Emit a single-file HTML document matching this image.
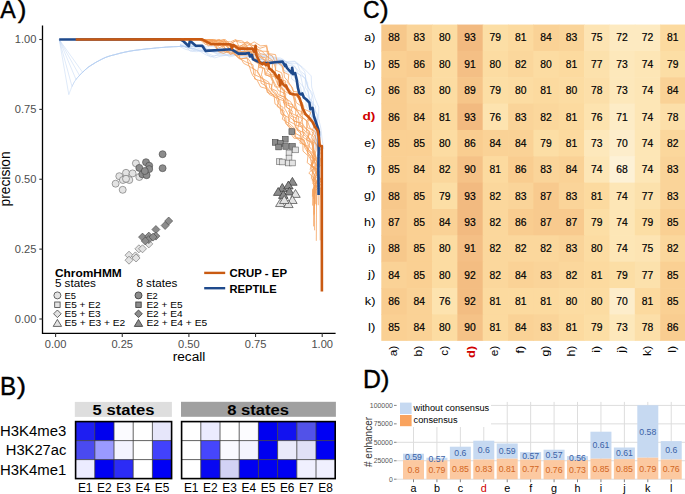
<!DOCTYPE html>
<html><head><meta charset="utf-8"><style>
html,body{margin:0;padding:0;background:#fff;}
svg{display:block;font-family:"Liberation Sans",sans-serif;}
</style></head><body>
<svg width="685" height="494" viewBox="0 0 685 494">
<rect width="685" height="494" fill="#fff"/>
<text transform="translate(0.34,18.40) scale(0.2325,0.2458)" font-size="100" fill="#000" stroke="#000" stroke-width="1.67">A</text>
<text transform="translate(17.71,17.98) scale(0.2590,0.2370)" font-size="100" fill="#000" stroke="#000" stroke-width="1.61">)</text>
<g stroke="#000" stroke-width="1.3" fill="none">
<line x1="42.5" y1="25.4" x2="42.5" y2="333.8"/>
<line x1="41.95" y1="333.3" x2="335.6" y2="333.3"/>
</g>
<g stroke="#333" stroke-width="1.1">
<line x1="39.3" y1="319.00" x2="42.5" y2="319.00"/>
<line x1="55.60" y1="333.3" x2="55.60" y2="336.9"/>
<line x1="39.3" y1="249.12" x2="42.5" y2="249.12"/>
<line x1="122.25" y1="333.3" x2="122.25" y2="336.9"/>
<line x1="39.3" y1="179.25" x2="42.5" y2="179.25"/>
<line x1="188.90" y1="333.3" x2="188.90" y2="336.9"/>
<line x1="39.3" y1="109.38" x2="42.5" y2="109.38"/>
<line x1="255.55" y1="333.3" x2="255.55" y2="336.9"/>
<line x1="39.3" y1="39.50" x2="42.5" y2="39.50"/>
<line x1="322.20" y1="333.3" x2="322.20" y2="336.9"/>
</g>
<text x="36.4" y="322.90" font-size="10.2" fill="#4d4d4d" text-anchor="end" textLength="21.6" lengthAdjust="spacingAndGlyphs">0.00</text>
<text x="55.60" y="347.7" font-size="10.2" fill="#4d4d4d" text-anchor="middle" textLength="21.6" lengthAdjust="spacingAndGlyphs">0.00</text>
<text x="36.4" y="253.03" font-size="10.2" fill="#4d4d4d" text-anchor="end" textLength="21.6" lengthAdjust="spacingAndGlyphs">0.25</text>
<text x="122.25" y="347.7" font-size="10.2" fill="#4d4d4d" text-anchor="middle" textLength="21.6" lengthAdjust="spacingAndGlyphs">0.25</text>
<text x="36.4" y="183.15" font-size="10.2" fill="#4d4d4d" text-anchor="end" textLength="21.6" lengthAdjust="spacingAndGlyphs">0.50</text>
<text x="188.90" y="347.7" font-size="10.2" fill="#4d4d4d" text-anchor="middle" textLength="21.6" lengthAdjust="spacingAndGlyphs">0.50</text>
<text x="36.4" y="113.28" font-size="10.2" fill="#4d4d4d" text-anchor="end" textLength="21.6" lengthAdjust="spacingAndGlyphs">0.75</text>
<text x="255.55" y="347.7" font-size="10.2" fill="#4d4d4d" text-anchor="middle" textLength="21.6" lengthAdjust="spacingAndGlyphs">0.75</text>
<text x="36.4" y="43.40" font-size="10.2" fill="#4d4d4d" text-anchor="end" textLength="21.6" lengthAdjust="spacingAndGlyphs">1.00</text>
<text x="322.20" y="347.7" font-size="10.2" fill="#4d4d4d" text-anchor="middle" textLength="21.6" lengthAdjust="spacingAndGlyphs">1.00</text>
<text x="189.00" y="361.30" font-size="13.7" fill="#000" text-anchor="middle">recall</text>
<text transform="translate(10,178.9) rotate(-90)" font-size="13.8" text-anchor="middle">precision</text>
<polyline points="59.2,39.5 68.8,94.6 69.6,92.5 70.1,91.0 70.8,89.4 71.4,87.9 72.0,86.5 72.6,85.3 73.2,84.1 73.8,82.9 74.4,81.8 75.2,80.7 76.0,79.5 76.9,78.3 78.0,77.1 79.1,75.9 80.2,74.6 81.4,73.5 82.6,72.3 83.7,71.2 84.8,70.2 85.9,69.2 87.1,68.2 88.4,67.1 90.0,66.0 91.9,64.8 94.0,63.5 96.3,62.1 98.7,60.8 101.0,59.6 103.2,58.5 105.2,57.6 107.1,56.9 108.9,56.3 110.8,55.7 112.8,55.2 115.0,54.6 117.4,54.0 119.8,53.3 122.4,52.7 125.1,52.1 127.9,51.5 130.8,51.0 133.8,50.5 136.9,50.1 140.1,49.7 143.4,49.3 146.7,48.9 150.0,48.6 153.3,48.3 156.6,47.9 159.9,47.6 163.3,47.4 166.7,47.1 170.0,46.9 173.4,46.7 176.9,46.6 180.3,46.4 183.7,46.3 187.0,46.3 190.0,46.2 193.0,46.2 195.9,46.2 198.8,46.2 201.3,46.2 203.4,46.3 205.0,46.3" fill="none" stroke="#b4cdf0" stroke-width="0.5" stroke-opacity="0.85" stroke-linejoin="round"/>
<polyline points="59.2,39.5 72.0,86.5 72.6,85.3 73.2,84.1 73.8,82.9 74.4,81.8 75.2,80.7 76.0,79.5 76.9,78.3 78.0,77.1 79.1,75.9 80.2,74.6 81.4,73.5 82.6,72.3 83.7,71.2 84.8,70.2 85.9,69.2 87.1,68.2 88.4,67.1 90.0,66.0 91.9,64.8 94.0,63.5 96.3,62.1 98.7,60.8 101.0,59.6 103.2,58.5 105.2,57.6 107.1,56.9 108.9,56.3 110.8,55.7 112.8,55.2 115.0,54.6 117.4,54.0 119.8,53.3 122.4,52.7 125.1,52.1 127.9,51.5 130.8,51.0 133.8,50.5 136.9,50.1 140.1,49.7 143.4,49.3 146.7,48.9 150.0,48.6 153.3,48.3 156.6,47.9 159.9,47.6 163.3,47.4 166.7,47.1 170.0,46.9 173.4,46.7 176.9,46.6 180.3,46.4 183.7,46.3 187.0,46.3 190.0,46.2 193.0,46.2 195.9,46.2 198.8,46.2 201.3,46.2 203.4,46.3 205.0,46.3" fill="none" stroke="#b4cdf0" stroke-width="0.5" stroke-opacity="0.85" stroke-linejoin="round"/>
<polyline points="59.2,39.5 76.0,79.5 76.9,78.3 78.0,77.1 79.1,75.9 80.2,74.6 81.4,73.5 82.6,72.3 83.7,71.2 84.8,70.2 85.9,69.2 87.1,68.2 88.4,67.1 90.0,66.0 91.9,64.8 94.0,63.5 96.3,62.1 98.7,60.8 101.0,59.6 103.2,58.5 105.2,57.6 107.1,56.9 108.9,56.3 110.8,55.7 112.8,55.2 115.0,54.6 117.4,54.0 119.8,53.3 122.4,52.7 125.1,52.1 127.9,51.5 130.8,51.0 133.8,50.5 136.9,50.1 140.1,49.7 143.4,49.3 146.7,48.9 150.0,48.6 153.3,48.3 156.6,47.9 159.9,47.6 163.3,47.4 166.7,47.1 170.0,46.9 173.4,46.7 176.9,46.6 180.3,46.4 183.7,46.3 187.0,46.3 190.0,46.2 193.0,46.2 195.9,46.2 198.8,46.2 201.3,46.2 203.4,46.3 205.0,46.3" fill="none" stroke="#b4cdf0" stroke-width="0.5" stroke-opacity="0.85" stroke-linejoin="round"/>
<polyline points="59.2,39.5 79.5,75.5 80.2,74.6 81.4,73.5 82.6,72.3 83.7,71.2 84.8,70.2 85.9,69.2 87.1,68.2 88.4,67.1 90.0,66.0 91.9,64.8 94.0,63.5 96.3,62.1 98.7,60.8 101.0,59.6 103.2,58.5 105.2,57.6 107.1,56.9 108.9,56.3 110.8,55.7 112.8,55.2 115.0,54.6 117.4,54.0 119.8,53.3 122.4,52.7 125.1,52.1 127.9,51.5 130.8,51.0 133.8,50.5 136.9,50.1 140.1,49.7 143.4,49.3 146.7,48.9 150.0,48.6 153.3,48.3 156.6,47.9 159.9,47.6 163.3,47.4 166.7,47.1 170.0,46.9 173.4,46.7 176.9,46.6 180.3,46.4 183.7,46.3 187.0,46.3 190.0,46.2 193.0,46.2 195.9,46.2 198.8,46.2 201.3,46.2 203.4,46.3 205.0,46.3" fill="none" stroke="#b4cdf0" stroke-width="0.5" stroke-opacity="0.85" stroke-linejoin="round"/>
<polyline points="59.2,39.5 82.6,72.3 83.7,71.2 84.8,70.2 85.9,69.2 87.1,68.2 88.4,67.1 90.0,66.0 91.9,64.8 94.0,63.5 96.3,62.1 98.7,60.8 101.0,59.6 103.2,58.5 105.2,57.6 107.1,56.9 108.9,56.3 110.8,55.7 112.8,55.2 115.0,54.6 117.4,54.0 119.8,53.3 122.4,52.7 125.1,52.1 127.9,51.5 130.8,51.0 133.8,50.5 136.9,50.1 140.1,49.7 143.4,49.3 146.7,48.9 150.0,48.6 153.3,48.3 156.6,47.9 159.9,47.6 163.3,47.4 166.7,47.1 170.0,46.9 173.4,46.7 176.9,46.6 180.3,46.4 183.7,46.3 187.0,46.3 190.0,46.2 193.0,46.2 195.9,46.2 198.8,46.2 201.3,46.2 203.4,46.3 205.0,46.3" fill="none" stroke="#b4cdf0" stroke-width="0.5" stroke-opacity="0.85" stroke-linejoin="round"/>
<polyline points="180.0,46.7 186.0,49.5 192.2,50.7 198.1,50.0 204.6,54.2 210.8,57.0 216.2,55.5 223.1,55.7 229.4,55.0 236.1,53.7 241.8,57.6 248.9,56.5 253.7,59.5 262.1,58.8 267.2,61.8 273.1,63.5 280.9,63.5 283.9,70.6 291.0,72.7 291.7,79.0 298.9,83.9 300.7,87.8 302.1,94.3 305.9,100.3 306.1,106.2 310.3,112.5 311.8,117.9 314.6,123.9 314.9,131.1 314.7,137.3 315.6,143.6 318.3,149.7" fill="none" stroke="#b8d0f2" stroke-width="0.55" stroke-opacity="0.85" stroke-linejoin="round"/>
<polyline points="180.0,46.6 185.3,46.7 190.3,51.2 196.4,51.7 203.1,50.8 208.2,54.9 214.7,57.9 220.8,56.2 227.1,54.7 232.1,55.7 238.1,54.7 245.7,56.2 250.2,56.4 256.2,59.6 261.4,59.5 267.4,62.6 274.0,64.6 279.9,64.8 283.5,69.9 288.7,73.7 293.7,76.1 297.1,82.1 297.7,87.1 301.7,92.2 305.2,97.3 307.6,102.4 309.2,108.2 310.7,114.4 314.5,120.7 313.4,125.8 315.7,131.7 315.2,137.9 313.8,144.7 314.8,149.3" fill="none" stroke="#b8d0f2" stroke-width="0.55" stroke-opacity="0.85" stroke-linejoin="round"/>
<polyline points="180.0,46.0 186.5,47.2 193.9,50.0 200.9,50.1 208.3,53.7 214.1,56.1 222.3,52.4 229.5,56.8 236.6,55.2 244.2,56.7 252.1,55.2 258.1,59.5 264.4,59.6 272.5,61.2 278.1,63.4 285.8,65.7 292.8,69.1 296.7,75.5 298.5,81.3 304.1,87.8 303.6,95.7 310.4,101.3 309.8,107.7 313.2,115.1 314.1,121.7 315.7,128.4 318.3,135.1 315.0,143.6 318.8,149.3" fill="none" stroke="#b8d0f2" stroke-width="0.55" stroke-opacity="0.85" stroke-linejoin="round"/>
<polyline points="180.0,45.8 188.5,47.0 199.1,50.3 208.7,51.0 218.3,54.0 228.1,55.0 237.2,53.9 247.2,52.3 255.6,57.6 265.0,60.0 275.9,60.4 283.6,66.3 290.9,70.5 300.4,74.8 302.7,85.3 306.3,94.7 312.9,102.1 312.2,111.0 316.0,121.3 316.6,129.9 317.7,140.0 318.1,149.1" fill="none" stroke="#b8d0f2" stroke-width="0.55" stroke-opacity="0.85" stroke-linejoin="round"/>
<polyline points="180.0,45.4 188.0,47.2 193.7,49.1 202.1,51.6 209.2,48.7 215.1,52.8 222.4,53.4 230.4,51.8 238.4,53.2 246.1,54.9 253.3,54.5 258.6,57.1 266.3,56.7 272.9,59.7 281.4,61.1 286.8,64.8 295.0,66.3 298.2,73.8 305.4,78.2 305.3,87.2 308.6,92.6 309.4,100.1 315.8,106.3 313.9,114.1 317.1,119.8 316.5,128.6 316.5,135.9 315.6,142.0 317.7,151.0" fill="none" stroke="#b8d0f2" stroke-width="0.55" stroke-opacity="0.85" stroke-linejoin="round"/>
<polyline points="180.0,45.1 190.4,48.5 202.5,47.3 214.1,51.9 225.9,51.8 236.8,52.0 248.7,54.8 259.8,56.1 272.0,56.9 282.2,61.5 291.8,64.1 301.3,73.6 307.6,82.6 308.2,93.7 311.9,105.6 315.0,116.4 318.2,127.6 318.6,139.2 320.3,149.9" fill="none" stroke="#b8d0f2" stroke-width="0.55" stroke-opacity="0.85" stroke-linejoin="round"/>
<polyline points="180.0,44.8 187.2,47.5 193.6,46.4 200.5,49.1 206.8,49.9 213.8,51.0 221.5,51.4 228.0,52.8 235.0,52.9 242.5,50.9 248.7,52.9 254.9,54.8 263.2,55.5 269.4,54.4 276.1,59.6 282.7,59.2 289.1,63.7 297.4,63.7 299.8,70.6 305.3,74.9 306.0,81.9 308.6,88.0 312.0,95.3 311.2,101.7 313.9,108.2 317.6,114.9 317.0,122.4 319.8,129.8 319.8,135.9 317.6,142.9 320.9,149.9" fill="none" stroke="#b8d0f2" stroke-width="0.55" stroke-opacity="0.85" stroke-linejoin="round"/>
<polyline points="180.0,44.6 187.2,47.7 193.9,48.5 202.4,44.9 207.8,49.5 216.2,51.7 224.0,49.1 230.1,49.5 237.2,51.9 245.4,50.0 251.5,53.9 258.3,55.3 265.4,57.4 273.1,58.1 280.2,57.9 287.1,62.6 294.6,61.8 300.4,66.1 304.8,71.8 306.1,80.4 307.3,86.7 312.0,92.6 313.5,101.1 313.5,107.6 316.8,114.7 317.7,120.8 317.0,128.4 320.5,134.6 319.7,142.2 320.5,150.4" fill="none" stroke="#b8d0f2" stroke-width="0.55" stroke-opacity="0.85" stroke-linejoin="round"/>
<polyline points="180.0,44.2 190.6,44.0 200.2,47.3 212.8,46.4 221.8,50.0 232.8,50.1 243.2,51.1 253.1,53.8 264.5,53.8 274.7,57.1 285.4,61.6 295.1,61.2 303.5,68.1 311.2,75.9 311.7,87.1 314.9,98.0 318.8,107.2 318.6,118.4 320.8,128.0 322.1,139.0 323.8,149.1" fill="none" stroke="#b8d0f2" stroke-width="0.55" stroke-opacity="0.85" stroke-linejoin="round"/>
<polyline points="198.8,39.5 205.2,41.0 208.1,46.0 214.5,43.6 218.2,51.6 223.4,53.4 231.5,50.2 234.9,54.2 241.1,58.9 243.7,63.4 249.3,66.1 251.0,71.8 252.9,75.9 257.2,80.4 260.6,86.9 266.0,88.4 270.6,92.5 274.1,95.9 275.0,103.9 280.1,107.5 280.9,113.8 284.1,116.9 285.6,123.3 289.8,128.1 290.6,133.3 293.9,138.2 303.2,139.2 302.9,145.9 303.0,151.1 308.0,155.7 307.2,162.7 314.1,167.7 308.8,172.9 314.1,178.5 315.8,183.5 313.7,190.0 313.6,226.4" fill="none" stroke="#f59f58" stroke-width="0.85" stroke-opacity="0.9" stroke-linejoin="round"/>
<polyline points="199.7,39.5 206.0,44.8 215.1,41.9 218.0,50.6 225.2,51.6 233.1,52.4 239.1,58.9 247.1,58.2 249.0,66.2 255.3,70.2 254.6,79.0 263.8,81.8 266.4,89.0 269.4,94.5 278.8,98.7 277.3,106.6 284.2,111.2 282.3,119.2 290.8,124.6 295.7,129.5 295.3,137.1 301.0,141.8 307.0,147.8 307.8,154.6 312.1,161.7 310.2,169.4 315.3,175.6 316.1,182.6 312.8,189.4 312.6,205.6" fill="none" stroke="#f59f58" stroke-width="0.85" stroke-opacity="0.9" stroke-linejoin="round"/>
<polyline points="199.9,39.5 206.6,42.9 214.3,43.8 221.2,45.9 227.7,52.7 233.6,53.9 240.2,58.8 245.7,61.9 253.0,64.8 253.6,74.3 261.3,77.7 265.9,82.7 267.2,92.4 275.5,95.4 279.7,100.6 281.1,110.0 285.7,116.4 286.3,123.4 291.8,129.6 294.7,136.7 304.4,140.0 304.5,147.2 308.6,153.8 313.4,159.3 311.6,167.8 313.0,174.2 313.7,183.3 315.6,190.1 315.5,193.5" fill="none" stroke="#f59f58" stroke-width="0.85" stroke-opacity="0.9" stroke-linejoin="round"/>
<polyline points="200.5,39.5 206.2,43.3 212.0,39.8 214.8,46.3 219.5,51.0 226.5,49.1 230.4,54.6 237.8,50.6 240.3,59.1 247.2,57.6 250.6,62.1 252.7,68.0 257.9,71.6 260.7,76.9 261.1,83.2 265.1,85.3 269.7,90.6 272.9,95.4 276.2,98.0 279.0,104.7 283.1,107.3 281.9,114.0 289.9,118.3 288.2,124.4 293.2,128.8 294.5,132.8 301.2,136.6 299.9,143.1 307.9,145.9 307.7,152.5 310.6,156.4 311.1,162.3 313.6,168.1 312.5,172.6 311.3,178.3 316.5,183.3 312.6,189.9 312.4,196.7" fill="none" stroke="#f59f58" stroke-width="0.85" stroke-opacity="0.9" stroke-linejoin="round"/>
<polyline points="202.1,39.5 208.8,39.8 214.6,43.6 221.3,43.3 226.1,46.0 231.2,49.6 236.9,55.3 243.4,55.2 251.3,54.9 253.7,61.0 259.1,64.2 257.4,72.5 261.2,77.6 268.8,82.2 269.8,88.2 275.6,92.8 278.7,99.1 285.0,101.1 284.7,108.5 288.4,115.0 288.4,120.9 295.1,124.5 297.5,130.4 302.2,135.0 301.7,142.6 307.1,147.2 310.2,152.1 313.8,158.0 315.5,164.8 312.9,170.2 314.9,176.7 313.5,184.2 314.0,190.6 314.1,195.6" fill="none" stroke="#f59f58" stroke-width="0.85" stroke-opacity="0.9" stroke-linejoin="round"/>
<polyline points="202.6,39.5 208.3,39.5 214.1,41.2 219.1,47.8 226.9,44.8 230.1,50.3 236.1,52.6 242.8,51.6 251.4,52.2 254.0,59.0 259.1,63.2 262.9,68.8 261.4,74.9 264.4,82.6 271.6,84.6 271.7,91.0 277.7,96.1 283.5,99.0 284.4,105.0 289.9,109.8 289.2,116.5 294.0,120.7 295.5,127.6 300.7,131.3 300.2,137.5 305.5,142.9 305.9,147.6 313.5,153.6 315.1,157.9 310.4,165.4 316.7,170.9 313.3,177.8 312.8,183.7 318.1,189.2 318.3,205.2" fill="none" stroke="#f59f58" stroke-width="0.85" stroke-opacity="0.9" stroke-linejoin="round"/>
<polyline points="203.5,39.5 209.4,41.1 212.2,44.0 218.6,44.0 223.4,45.4 225.4,50.3 230.3,49.3 235.2,50.6 240.4,52.3 245.7,53.2 250.3,55.5 253.6,58.0 259.0,59.8 259.9,66.3 264.6,68.5 265.6,74.5 270.6,77.1 272.6,81.6 271.4,88.6 276.8,91.1 278.2,94.7 284.3,97.1 283.4,102.8 290.3,106.5 288.7,111.4 293.4,116.2 293.4,121.0 299.1,122.6 297.4,130.3 304.3,132.5 302.9,137.2 309.1,141.1 309.6,145.4 307.9,150.8 311.7,154.5 315.1,159.3 311.5,166.2 314.8,169.2 317.0,174.4 311.9,179.9 315.9,185.3 314.1,189.3 314.0,215.3" fill="none" stroke="#f59f58" stroke-width="0.85" stroke-opacity="0.9" stroke-linejoin="round"/>
<polyline points="204.3,39.5 207.8,42.7 215.3,39.5 217.8,45.6 222.4,44.6 226.4,49.7 234.1,46.1 237.2,51.4 242.6,48.9 246.9,52.3 252.7,52.0 254.1,59.0 258.6,60.5 258.8,67.3 264.5,68.4 265.0,74.9 270.9,76.3 273.0,81.0 275.0,86.9 280.7,87.1 280.0,95.3 285.1,97.2 286.3,101.4 286.5,107.2 292.5,111.2 290.7,116.2 296.9,118.0 296.1,125.3 302.1,127.0 303.1,134.1 306.7,137.3 306.6,140.4 308.9,146.2 312.8,150.8 311.6,155.1 314.0,159.3 311.2,165.6 315.7,169.4 317.7,175.5 315.1,179.4 315.1,184.2 314.3,189.7 314.5,205.9" fill="none" stroke="#f59f58" stroke-width="0.85" stroke-opacity="0.9" stroke-linejoin="round"/>
<polyline points="205.8,39.5 211.5,43.0 219.5,39.5 224.5,42.8 230.4,47.1 237.5,46.4 243.6,47.4 247.9,51.2 256.7,52.2 259.1,56.9 265.4,60.5 266.2,68.8 270.6,73.7 273.0,79.9 275.6,85.1 278.4,90.6 285.8,93.8 284.9,102.4 292.8,104.7 290.4,112.7 298.2,116.6 299.3,123.8 304.3,127.5 310.2,132.8 306.7,139.9 313.4,143.9 313.1,151.1 316.1,157.7 312.3,165.4 317.8,170.3 318.3,176.4 315.8,183.3 314.6,190.8 314.2,213.8" fill="none" stroke="#f59f58" stroke-width="0.85" stroke-opacity="0.9" stroke-linejoin="round"/>
<polyline points="205.8,39.5 212.0,43.3 218.7,39.5 223.6,42.4 229.4,49.5 236.9,45.2 241.2,52.0 248.6,50.4 252.7,54.5 259.7,54.1 264.3,60.1 269.4,64.8 266.4,73.7 274.5,75.2 276.6,81.8 279.6,87.7 284.5,90.5 284.6,98.2 290.3,101.4 294.1,107.3 298.5,113.2 294.3,121.1 302.7,123.5 302.8,131.7 306.5,135.1 310.4,140.7 312.6,146.4 313.7,152.7 312.6,160.0 311.7,165.3 317.6,170.2 318.4,176.7 316.7,182.8 313.9,190.0 313.4,198.9" fill="none" stroke="#f59f58" stroke-width="0.85" stroke-opacity="0.9" stroke-linejoin="round"/>
<polyline points="206.4,39.5 212.3,40.8 217.7,39.8 222.0,45.2 229.8,43.8 233.5,46.6 239.8,48.2 246.5,46.2 250.1,50.7 257.1,51.4 259.4,56.6 265.7,57.9 265.5,65.3 272.1,69.2 270.0,75.6 277.9,77.8 277.3,84.6 284.3,89.6 283.3,94.5 287.5,99.7 289.1,106.0 295.9,108.5 295.6,114.7 302.3,118.8 299.5,124.9 304.1,130.0 308.0,134.5 309.4,140.5 314.0,142.9 312.7,150.5 315.6,155.9 314.7,161.6 315.1,166.2 319.3,172.0 314.7,177.9 318.0,184.4 314.3,189.6 314.6,230.3" fill="none" stroke="#f59f58" stroke-width="0.85" stroke-opacity="0.9" stroke-linejoin="round"/>
<polyline points="208.2,39.5 213.6,39.5 218.2,42.4 225.0,40.2 227.8,46.0 234.8,44.3 238.7,48.7 245.7,45.0 249.5,50.2 256.4,47.8 260.1,53.6 266.7,55.4 266.9,61.2 272.4,64.0 272.2,71.3 274.0,75.8 281.2,77.3 281.5,84.9 282.4,90.1 288.9,93.5 293.7,96.1 295.1,101.1 294.6,108.9 301.5,111.6 302.4,116.6 302.3,123.6 305.0,127.5 309.7,131.4 307.5,136.7 313.0,141.5 312.4,147.7 314.5,151.4 312.3,157.2 314.9,162.2 318.5,167.0 315.9,174.1 320.7,178.9 315.1,183.7 320.0,189.3 320.2,240.3" fill="none" stroke="#f59f58" stroke-width="0.85" stroke-opacity="0.9" stroke-linejoin="round"/>
<polyline points="208.6,39.5 215.0,43.2 225.0,41.9 231.6,44.4 239.3,46.1 247.8,43.6 253.7,48.2 261.3,50.5 266.4,55.8 273.3,61.2 275.4,68.1 275.3,78.3 285.7,81.0 285.4,88.8 292.7,94.3 294.7,102.6 297.3,110.5 300.4,116.2 307.2,121.0 306.4,131.5 313.3,136.3 312.6,144.9 314.6,151.5 316.7,159.6 316.1,167.7 319.3,175.2 317.8,182.6 315.4,189.9 315.3,204.1" fill="none" stroke="#f59f58" stroke-width="0.85" stroke-opacity="0.9" stroke-linejoin="round"/>
<polyline points="209.7,39.5 216.6,41.1 224.2,39.6 227.0,45.7 235.3,40.9 241.5,42.7 248.6,42.7 255.2,47.0 259.7,51.1 268.7,51.4 268.3,60.1 275.9,62.5 275.6,70.1 281.7,72.8 283.4,81.1 286.0,85.5 291.4,91.6 294.7,96.1 296.3,102.7 302.6,107.1 300.5,115.6 306.5,120.8 307.4,127.6 313.9,130.9 311.5,137.7 316.0,144.1 316.0,150.6 313.9,157.9 317.7,162.9 314.4,170.8 319.3,177.5 315.5,184.0 316.6,190.0 316.3,240.8" fill="none" stroke="#f59f58" stroke-width="0.85" stroke-opacity="0.9" stroke-linejoin="round"/>
<polyline points="211.1,39.5 214.7,43.7 220.9,41.9 225.6,41.5 230.5,41.9 235.8,39.5 239.3,47.1 247.2,41.5 251.4,45.7 255.2,45.3 260.0,48.3 266.5,46.3 267.4,54.0 272.2,55.6 274.4,60.4 277.6,62.8 283.2,66.9 283.9,71.5 284.4,77.1 287.6,80.8 291.0,85.7 293.2,91.3 298.1,92.1 297.8,98.0 302.2,102.2 303.9,107.2 302.2,113.7 309.2,115.9 307.8,121.9 310.0,128.0 314.9,131.2 315.9,134.5 314.5,141.6 316.5,144.5 320.0,149.5 317.7,155.7 320.3,158.5 319.7,164.8 317.9,169.2 316.1,174.8 321.0,180.5 318.9,184.8 321.0,189.7 321.5,202.2" fill="none" stroke="#f59f58" stroke-width="0.85" stroke-opacity="0.9" stroke-linejoin="round"/>
<polyline points="212.0,39.5 217.2,41.2 225.2,39.5 230.0,44.1 236.4,40.3 242.6,41.0 247.0,46.0 254.2,41.9 260.7,45.9 266.7,45.3 268.3,53.6 275.5,54.6 277.0,60.9 282.2,65.5 283.0,71.8 288.8,74.8 287.8,83.2 292.5,87.5 293.8,93.0 298.1,98.3 301.3,102.9 302.9,108.6 310.8,112.2 307.6,119.8 315.2,123.1 311.9,131.6 315.0,136.2 316.7,140.8 317.7,148.6 320.1,153.1 316.4,160.6 320.2,165.3 316.0,172.9 320.4,178.4 322.0,183.0 315.9,190.2 316.3,205.4" fill="none" stroke="#f59f58" stroke-width="0.85" stroke-opacity="0.9" stroke-linejoin="round"/>
<polyline points="59.2,39.5 180.0,39.3 182.9,40.8 188.8,46.2 189.9,40.8 195.8,45.8 202.2,45.8 205.7,50.9 231.4,49.3 233.7,50.7 238.4,53.6 245.4,53.6 248.9,53.0 250.0,56.5 251.8,54.8 253.0,59.4 257.3,61.2 262.1,63.1 268.2,63.1 275.0,62.3 282.6,61.6 285.1,66.1 285.6,64.6 287.1,68.2 291.7,73.2 292.2,67.7 293.2,74.2 295.2,73.2 296.8,80.3 297.8,87.4 299.3,93.5 301.3,94.5 302.3,93.5 303.8,97.5 306.4,99.5 309.4,102.6 310.4,109.2 312.5,107.8 313.9,116.3 315.4,120.5 316.8,124.8 318.2,129.0 318.9,131.9 318.4,165.0 318.6,195.0" fill="none" stroke="#1f4a8c" stroke-width="2.6" stroke-opacity="1.0" stroke-linejoin="round"/>
<polyline points="75.7,39.5 202.2,39.3 211.5,44.3 229.0,44.3 230.8,44.8 232.0,48.4 233.1,44.8 238.4,48.6 252.4,48.6 254.4,52.2 255.6,45.7 256.4,55.4 258.5,59.5 260.0,62.7 262.5,64.3 264.0,62.7 265.7,65.1 268.2,63.5 269.0,68.4 271.4,70.0 274.6,73.2 276.3,76.0 278.0,78.3 279.0,75.2 280.0,85.4 281.0,80.3 283.1,84.4 285.1,86.4 286.1,85.4 287.7,89.4 290.2,93.5 294.2,94.5 297.3,94.5 299.3,97.5 301.3,103.6 302.5,108.2 305.6,114.3 309.3,117.9 312.3,121.6 314.6,126.2 317.5,130.5 318.9,137.6 319.8,146.0 321.8,146.0 321.9,291.5" fill="none" stroke="#c95a12" stroke-width="2.6" stroke-opacity="1.0" stroke-linejoin="round"/>
<circle cx="135.9" cy="163.3" r="3.5" fill="#e3e3e3" stroke="#666" stroke-width="0.6"/>
<circle cx="126" cy="172.8" r="3.5" fill="#e3e3e3" stroke="#666" stroke-width="0.6"/>
<circle cx="132.6" cy="173.4" r="3.5" fill="#e3e3e3" stroke="#666" stroke-width="0.6"/>
<circle cx="119.3" cy="176.2" r="3.5" fill="#e3e3e3" stroke="#666" stroke-width="0.6"/>
<circle cx="122.9" cy="180" r="3.5" fill="#e3e3e3" stroke="#666" stroke-width="0.6"/>
<circle cx="129.3" cy="180" r="3.5" fill="#e3e3e3" stroke="#666" stroke-width="0.6"/>
<circle cx="126" cy="178.8" r="3.5" fill="#e3e3e3" stroke="#666" stroke-width="0.6"/>
<circle cx="115.6" cy="183.7" r="3.5" fill="#e3e3e3" stroke="#666" stroke-width="0.6"/>
<circle cx="122.7" cy="189.8" r="3.5" fill="#e3e3e3" stroke="#666" stroke-width="0.6"/>
<circle cx="139.3" cy="177" r="3.5" fill="#e3e3e3" stroke="#666" stroke-width="0.6"/>
<circle cx="162.6" cy="154.2" r="3.5" fill="#8c8c8c" stroke="#444" stroke-width="0.6"/>
<circle cx="162.6" cy="168.2" r="3.5" fill="#8c8c8c" stroke="#444" stroke-width="0.6"/>
<circle cx="146" cy="162.2" r="3.5" fill="#8c8c8c" stroke="#444" stroke-width="0.6"/>
<circle cx="149.2" cy="165.7" r="3.5" fill="#8c8c8c" stroke="#444" stroke-width="0.6"/>
<circle cx="139.3" cy="167.9" r="3.5" fill="#8c8c8c" stroke="#444" stroke-width="0.6"/>
<circle cx="149.2" cy="169.1" r="3.5" fill="#8c8c8c" stroke="#444" stroke-width="0.6"/>
<circle cx="142.3" cy="174.3" r="3.5" fill="#8c8c8c" stroke="#444" stroke-width="0.6"/>
<circle cx="146.6" cy="175.2" r="3.5" fill="#8c8c8c" stroke="#444" stroke-width="0.6"/>
<circle cx="144.8" cy="171" r="3.5" fill="#8c8c8c" stroke="#444" stroke-width="0.6"/>
<polygon points="148.8,239.9 152.8,243.9 148.8,247.9 144.8,243.9" fill="#e3e3e3" stroke="#666" stroke-width="0.6"/>
<polygon points="138.9,244.8 142.9,248.8 138.9,252.8 134.9,248.8" fill="#e3e3e3" stroke="#666" stroke-width="0.6"/>
<polygon points="142.5,244.8 146.5,248.8 142.5,252.8 138.5,248.8" fill="#e3e3e3" stroke="#666" stroke-width="0.6"/>
<polygon points="129,251.2 133.0,255.2 129,259.2 125.0,255.2" fill="#e3e3e3" stroke="#666" stroke-width="0.6"/>
<polygon points="135.4,251.9 139.4,255.9 135.4,259.9 131.4,255.9" fill="#e3e3e3" stroke="#666" stroke-width="0.6"/>
<polygon points="129,256.2 133.0,260.2 129,264.2 125.0,260.2" fill="#e3e3e3" stroke="#666" stroke-width="0.6"/>
<polygon points="136.1,254.0 140.1,258 136.1,262.0 132.1,258" fill="#e3e3e3" stroke="#666" stroke-width="0.6"/>
<polygon points="168.7,217.0 172.7,221 168.7,225.0 164.7,221" fill="#8c8c8c" stroke="#444" stroke-width="0.6"/>
<polygon points="165.1,221.5 169.1,225.5 165.1,229.5 161.1,225.5" fill="#8c8c8c" stroke="#444" stroke-width="0.6"/>
<polygon points="155.9,225.5 159.9,229.5 155.9,233.5 151.9,229.5" fill="#8c8c8c" stroke="#444" stroke-width="0.6"/>
<polygon points="155.9,232.1 159.9,236.1 155.9,240.1 151.9,236.1" fill="#8c8c8c" stroke="#444" stroke-width="0.6"/>
<polygon points="142.5,233.1 146.5,237.1 142.5,241.1 138.5,237.1" fill="#8c8c8c" stroke="#444" stroke-width="0.6"/>
<polygon points="148.8,232.1 152.8,236.1 148.8,240.1 144.8,236.1" fill="#8c8c8c" stroke="#444" stroke-width="0.6"/>
<polygon points="148.8,235.6 152.8,239.6 148.8,243.6 144.8,239.6" fill="#8c8c8c" stroke="#444" stroke-width="0.6"/>
<polygon points="145.3,237.0 149.3,241 145.3,245.0 141.3,241" fill="#8c8c8c" stroke="#444" stroke-width="0.6"/>
<polygon points="153.1,233.1 157.1,237.1 153.1,241.1 149.1,237.1" fill="#8c8c8c" stroke="#444" stroke-width="0.6"/>
<rect x="288.95" y="128.75" width="5.7" height="5.7" fill="#8c8c8c" stroke="#444" stroke-width="0.6"/>
<rect x="282.45" y="136.45" width="5.7" height="5.7" fill="#8c8c8c" stroke="#444" stroke-width="0.6"/>
<rect x="272.35" y="139.55" width="5.7" height="5.7" fill="#8c8c8c" stroke="#444" stroke-width="0.6"/>
<rect x="277.45" y="140.55" width="5.7" height="5.7" fill="#8c8c8c" stroke="#444" stroke-width="0.6"/>
<rect x="275.75" y="144.15" width="5.7" height="5.7" fill="#8c8c8c" stroke="#444" stroke-width="0.6"/>
<rect x="282.85" y="143.55" width="5.7" height="5.7" fill="#8c8c8c" stroke="#444" stroke-width="0.6"/>
<rect x="289.55" y="143.55" width="5.7" height="5.7" fill="#8c8c8c" stroke="#444" stroke-width="0.6"/>
<rect x="292.65" y="147.05" width="5.7" height="5.7" fill="#e3e3e3" stroke="#666" stroke-width="0.6"/>
<rect x="286.15" y="150.05" width="5.7" height="5.7" fill="#e3e3e3" stroke="#666" stroke-width="0.6"/>
<rect x="286.15" y="155.15" width="5.7" height="5.7" fill="#e3e3e3" stroke="#666" stroke-width="0.6"/>
<rect x="276.45" y="158.75" width="5.7" height="5.7" fill="#e3e3e3" stroke="#666" stroke-width="0.6"/>
<rect x="279.45" y="159.15" width="5.7" height="5.7" fill="#e3e3e3" stroke="#666" stroke-width="0.6"/>
<rect x="285.55" y="160.15" width="5.7" height="5.7" fill="#e3e3e3" stroke="#666" stroke-width="0.6"/>
<rect x="289.55" y="160.15" width="5.7" height="5.7" fill="#e3e3e3" stroke="#666" stroke-width="0.6"/>
<polygon points="292.4,177.4 297.125,185.275 287.67499999999995,185.275" fill="#8c8c8c" stroke="#333" stroke-width="0.7"/>
<polygon points="282.3,183.5 287.02500000000003,191.375 277.575,191.375" fill="#8c8c8c" stroke="#333" stroke-width="0.7"/>
<polygon points="288.4,181.0 293.125,188.875 283.67499999999995,188.875" fill="#8c8c8c" stroke="#333" stroke-width="0.7"/>
<polygon points="278.2,187.5 282.925,195.375 273.47499999999997,195.375" fill="#8c8c8c" stroke="#333" stroke-width="0.7"/>
<polygon points="289.4,187.1 294.125,194.975 284.67499999999995,194.975" fill="#8c8c8c" stroke="#333" stroke-width="0.7"/>
<polygon points="283.3,190.5 288.02500000000003,198.375 278.575,198.375" fill="#8c8c8c" stroke="#333" stroke-width="0.7"/>
<polygon points="295.5,189.5 300.225,197.375 290.775,197.375" fill="#e3e3e3" stroke="#444" stroke-width="0.7"/>
<polygon points="292.4,195.6 297.125,203.475 287.67499999999995,203.475" fill="#e3e3e3" stroke="#444" stroke-width="0.7"/>
<polygon points="280.3,198.7 285.02500000000003,206.575 275.575,206.575" fill="#e3e3e3" stroke="#444" stroke-width="0.7"/>
<polygon points="288.4,199.7 293.125,207.575 283.67499999999995,207.575" fill="#e3e3e3" stroke="#444" stroke-width="0.7"/>
<polygon points="284.3,195.6 289.02500000000003,203.475 279.575,203.475" fill="#e3e3e3" stroke="#444" stroke-width="0.7"/>
<text x="54.90" y="276.90" font-size="10.82" fill="#000" text-anchor="start" font-weight="bold" textLength="66.90" lengthAdjust="spacingAndGlyphs">ChromHMM</text>
<text x="54.90" y="287.40" font-size="10.71" fill="#000" text-anchor="start" textLength="40.88" lengthAdjust="spacingAndGlyphs">5 states</text>
<text x="136.40" y="287.40" font-size="10.71" fill="#000" text-anchor="start" textLength="40.88" lengthAdjust="spacingAndGlyphs">8 states</text>
<circle cx="57.4" cy="295.40000000000003" r="3.5" fill="#e3e3e3" stroke="#444" stroke-width="0.8"/>
<circle cx="138.5" cy="295.40000000000003" r="3.5" fill="#8c8c8c" stroke="#333" stroke-width="0.8"/>
<text x="64.50" y="298.60" font-size="9.45" fill="#000" text-anchor="start" textLength="11.41" lengthAdjust="spacingAndGlyphs">E5</text>
<text x="146.40" y="298.60" font-size="9.45" fill="#000" text-anchor="start" textLength="11.41" lengthAdjust="spacingAndGlyphs">E2</text>
<rect x="54.70" y="302.00" width="5.4" height="5.4" fill="#e3e3e3" stroke="#444" stroke-width="0.8"/>
<rect x="135.80" y="302.00" width="5.4" height="5.4" fill="#8c8c8c" stroke="#333" stroke-width="0.8"/>
<text x="64.50" y="307.90" font-size="9.45" fill="#000" text-anchor="start" textLength="36.09" lengthAdjust="spacingAndGlyphs">E5 + E2</text>
<text x="146.40" y="307.90" font-size="9.45" fill="#000" text-anchor="start" textLength="36.09" lengthAdjust="spacingAndGlyphs">E2 + E5</text>
<polygon points="57.4,310.0 61.199999999999996,313.8 57.4,317.6 53.6,313.8" fill="#e3e3e3" stroke="#444" stroke-width="0.8"/>
<polygon points="138.5,310.0 142.3,313.8 138.5,317.6 134.7,313.8" fill="#8c8c8c" stroke="#333" stroke-width="0.8"/>
<text x="64.50" y="317.00" font-size="9.45" fill="#000" text-anchor="start" textLength="36.09" lengthAdjust="spacingAndGlyphs">E5 + E3</text>
<text x="146.40" y="317.00" font-size="9.45" fill="#000" text-anchor="start" textLength="36.09" lengthAdjust="spacingAndGlyphs">E2 + E4</text>
<polygon points="57.4,319.40000000000003 61.6,326.40000000000003 53.199999999999996,326.40000000000003" fill="#e3e3e3" stroke="#444" stroke-width="0.8"/>
<polygon points="138.5,319.40000000000003 142.7,326.40000000000003 134.3,326.40000000000003" fill="#8c8c8c" stroke="#333" stroke-width="0.8"/>
<text x="64.50" y="326.30" font-size="9.45" fill="#000" text-anchor="start" textLength="60.76" lengthAdjust="spacingAndGlyphs">E5 + E3 + E2</text>
<text x="146.40" y="326.30" font-size="9.45" fill="#000" text-anchor="start" textLength="60.76" lengthAdjust="spacingAndGlyphs">E2 + E4 + E5</text>
<line x1="204.2" y1="272.9" x2="225.2" y2="272.9" stroke="#c95a12" stroke-width="2.4"/>
<line x1="204.2" y1="288.2" x2="225.2" y2="288.2" stroke="#1f4a8c" stroke-width="2.4"/>
<text x="229.60" y="276.70" font-size="10.82" fill="#000" text-anchor="start" font-weight="bold" textLength="57.44" lengthAdjust="spacingAndGlyphs">CRUP - EP</text>
<text x="229.60" y="292.50" font-size="10.82" fill="#000" text-anchor="start" font-weight="bold" textLength="46.97" lengthAdjust="spacingAndGlyphs">REPTILE</text>
<text transform="translate(0.10,394.60) scale(0.2423,0.2516)" font-size="100" fill="#000" stroke="#000" stroke-width="1.62">B</text>
<text transform="translate(16.90,394.34) scale(0.2705,0.2391)" font-size="100" fill="#000" stroke="#000" stroke-width="1.57">)</text>
<rect x="74.8" y="401.9" width="97.1" height="15" fill="#dedede"/>
<rect x="181" y="401.8" width="154.9" height="15" fill="#a0a0a0"/>
<text x="123.50" y="414.80" font-size="14.28" fill="#000" text-anchor="middle" font-weight="bold" textLength="61.79" lengthAdjust="spacingAndGlyphs">5 states</text>
<text x="258.10" y="414.80" font-size="14.28" fill="#000" text-anchor="middle" font-weight="bold" textLength="61.79" lengthAdjust="spacingAndGlyphs">8 states</text>
<rect x="75.60" y="421.60" width="19.25" height="19.05" fill="#1e1ef2"/>
<rect x="94.80" y="421.60" width="19.25" height="19.05" fill="#0000ee"/>
<rect x="114.00" y="421.60" width="19.25" height="19.05" fill="#fbfbff"/>
<rect x="133.20" y="421.60" width="19.25" height="19.05" fill="#ffffff"/>
<rect x="152.40" y="421.60" width="19.25" height="19.05" fill="#e6e6fa"/>
<rect x="75.60" y="440.60" width="19.25" height="19.05" fill="#4a4af0"/>
<rect x="94.80" y="440.60" width="19.25" height="19.05" fill="#9a9aff"/>
<rect x="114.00" y="440.60" width="19.25" height="19.05" fill="#f4f4ff"/>
<rect x="133.20" y="440.60" width="19.25" height="19.05" fill="#ffffff"/>
<rect x="152.40" y="440.60" width="19.25" height="19.05" fill="#4242fc"/>
<rect x="75.60" y="459.60" width="19.25" height="19.05" fill="#ececff"/>
<rect x="94.80" y="459.60" width="19.25" height="19.05" fill="#0000f2"/>
<rect x="114.00" y="459.60" width="19.25" height="19.05" fill="#2c2cf6"/>
<rect x="133.20" y="459.60" width="19.25" height="19.05" fill="#ffffff"/>
<rect x="152.40" y="459.60" width="19.25" height="19.05" fill="#0000f6"/>
<g stroke="#3a3a3a" stroke-width="0.8">
<line x1="94.80" y1="421.6" x2="94.80" y2="478.6"/>
<line x1="114.00" y1="421.6" x2="114.00" y2="478.6"/>
<line x1="133.20" y1="421.6" x2="133.20" y2="478.6"/>
<line x1="152.40" y1="421.6" x2="152.40" y2="478.6"/>
<line x1="75.6" y1="440.60" x2="171.6" y2="440.60"/>
<line x1="75.6" y1="459.60" x2="171.6" y2="459.60"/>
</g>
<rect x="75.6" y="421.6" width="96.00" height="57.00" fill="none" stroke="#000" stroke-width="1.6"/>
<rect x="181.60" y="421.60" width="19.25" height="19.05" fill="#ffffff"/>
<rect x="200.80" y="421.60" width="19.25" height="19.05" fill="#ebebfe"/>
<rect x="220.00" y="421.60" width="19.25" height="19.05" fill="#ffffff"/>
<rect x="239.20" y="421.60" width="19.25" height="19.05" fill="#fcfcff"/>
<rect x="258.40" y="421.60" width="19.25" height="19.05" fill="#0000f0"/>
<rect x="277.60" y="421.60" width="19.25" height="19.05" fill="#1212f0"/>
<rect x="296.80" y="421.60" width="19.25" height="19.05" fill="#5252e8"/>
<rect x="316.00" y="421.60" width="19.25" height="19.05" fill="#0000f4"/>
<rect x="181.60" y="440.60" width="19.25" height="19.05" fill="#ffffff"/>
<rect x="200.80" y="440.60" width="19.25" height="19.05" fill="#4646fc"/>
<rect x="220.00" y="440.60" width="19.25" height="19.05" fill="#fafaff"/>
<rect x="239.20" y="440.60" width="19.25" height="19.05" fill="#f4f4fe"/>
<rect x="258.40" y="440.60" width="19.25" height="19.05" fill="#0000f0"/>
<rect x="277.60" y="440.60" width="19.25" height="19.05" fill="#eaeafa"/>
<rect x="296.80" y="440.60" width="19.25" height="19.05" fill="#e0e0f6"/>
<rect x="316.00" y="440.60" width="19.25" height="19.05" fill="#0000f4"/>
<rect x="181.60" y="459.60" width="19.25" height="19.05" fill="#ffffff"/>
<rect x="200.80" y="459.60" width="19.25" height="19.05" fill="#0808f2"/>
<rect x="220.00" y="459.60" width="19.25" height="19.05" fill="#d2d2f4"/>
<rect x="239.20" y="459.60" width="19.25" height="19.05" fill="#0000f2"/>
<rect x="258.40" y="459.60" width="19.25" height="19.05" fill="#0000f2"/>
<rect x="277.60" y="459.60" width="19.25" height="19.05" fill="#0000f2"/>
<rect x="296.80" y="459.60" width="19.25" height="19.05" fill="#f0f0fe"/>
<rect x="316.00" y="459.60" width="19.25" height="19.05" fill="#f0f0fe"/>
<g stroke="#3a3a3a" stroke-width="0.8">
<line x1="200.80" y1="421.6" x2="200.80" y2="478.6"/>
<line x1="220.00" y1="421.6" x2="220.00" y2="478.6"/>
<line x1="239.20" y1="421.6" x2="239.20" y2="478.6"/>
<line x1="258.40" y1="421.6" x2="258.40" y2="478.6"/>
<line x1="277.60" y1="421.6" x2="277.60" y2="478.6"/>
<line x1="296.80" y1="421.6" x2="296.80" y2="478.6"/>
<line x1="316.00" y1="421.6" x2="316.00" y2="478.6"/>
<line x1="181.6" y1="440.60" x2="335.2" y2="440.60"/>
<line x1="181.6" y1="459.60" x2="335.2" y2="459.60"/>
</g>
<rect x="181.6" y="421.6" width="153.60" height="57.00" fill="none" stroke="#000" stroke-width="1.6"/>
<text x="66.30" y="435.70" font-size="14.18" fill="#000" text-anchor="end" textLength="66.23" lengthAdjust="spacingAndGlyphs">H3K4me3</text>
<text x="66.30" y="455.20" font-size="14.18" fill="#000" text-anchor="end" textLength="60.47" lengthAdjust="spacingAndGlyphs">H3K27ac</text>
<text x="66.30" y="474.60" font-size="14.18" fill="#000" text-anchor="end" textLength="66.23" lengthAdjust="spacingAndGlyphs">H3K4me1</text>
<text x="85.20" y="492.20" font-size="12.08" fill="#000" text-anchor="middle" textLength="14.58" lengthAdjust="spacingAndGlyphs">E1</text>
<text x="104.40" y="492.20" font-size="12.08" fill="#000" text-anchor="middle" textLength="14.58" lengthAdjust="spacingAndGlyphs">E2</text>
<text x="123.60" y="492.20" font-size="12.08" fill="#000" text-anchor="middle" textLength="14.58" lengthAdjust="spacingAndGlyphs">E3</text>
<text x="142.80" y="492.20" font-size="12.08" fill="#000" text-anchor="middle" textLength="14.58" lengthAdjust="spacingAndGlyphs">E4</text>
<text x="162.00" y="492.20" font-size="12.08" fill="#000" text-anchor="middle" textLength="14.58" lengthAdjust="spacingAndGlyphs">E5</text>
<text x="191.20" y="492.20" font-size="12.08" fill="#000" text-anchor="middle" textLength="14.58" lengthAdjust="spacingAndGlyphs">E1</text>
<text x="210.40" y="492.20" font-size="12.08" fill="#000" text-anchor="middle" textLength="14.58" lengthAdjust="spacingAndGlyphs">E2</text>
<text x="229.60" y="492.20" font-size="12.08" fill="#000" text-anchor="middle" textLength="14.58" lengthAdjust="spacingAndGlyphs">E3</text>
<text x="248.80" y="492.20" font-size="12.08" fill="#000" text-anchor="middle" textLength="14.58" lengthAdjust="spacingAndGlyphs">E4</text>
<text x="268.00" y="492.20" font-size="12.08" fill="#000" text-anchor="middle" textLength="14.58" lengthAdjust="spacingAndGlyphs">E5</text>
<text x="287.20" y="492.20" font-size="12.08" fill="#000" text-anchor="middle" textLength="14.58" lengthAdjust="spacingAndGlyphs">E6</text>
<text x="306.40" y="492.20" font-size="12.08" fill="#000" text-anchor="middle" textLength="14.58" lengthAdjust="spacingAndGlyphs">E7</text>
<text x="325.60" y="492.20" font-size="12.08" fill="#000" text-anchor="middle" textLength="14.58" lengthAdjust="spacingAndGlyphs">E8</text>
<text transform="translate(363.05,17.66) scale(0.2292,0.2417)" font-size="100" fill="#000" stroke="#000" stroke-width="1.70">C</text>
<text transform="translate(380.11,17.62) scale(0.2590,0.2402)" font-size="100" fill="#000" stroke="#000" stroke-width="1.60">)</text>
<rect x="381.30" y="24.55" width="25.95" height="26.95" fill="#f7c88b"/>
<rect x="406.65" y="24.55" width="25.95" height="26.95" fill="#fad499"/>
<rect x="432.00" y="24.55" width="25.95" height="26.95" fill="#fcdca2"/>
<rect x="457.35" y="24.55" width="25.95" height="26.95" fill="#f2ba80"/>
<rect x="482.70" y="24.55" width="25.95" height="26.95" fill="#fcdea5"/>
<rect x="508.05" y="24.55" width="25.95" height="26.95" fill="#fcda9f"/>
<rect x="533.40" y="24.55" width="25.95" height="26.95" fill="#fad296"/>
<rect x="558.75" y="24.55" width="25.95" height="26.95" fill="#fad499"/>
<rect x="584.10" y="24.55" width="25.95" height="26.95" fill="#fde4b3"/>
<rect x="609.45" y="24.55" width="25.95" height="26.95" fill="#fdeac1"/>
<rect x="634.80" y="24.55" width="25.95" height="26.95" fill="#fdeac1"/>
<rect x="660.15" y="24.55" width="25.65" height="26.95" fill="#fcda9f"/>
<rect x="381.30" y="50.90" width="25.95" height="26.95" fill="#fad093"/>
<rect x="406.65" y="50.90" width="25.95" height="26.95" fill="#f9cd90"/>
<rect x="432.00" y="50.90" width="25.95" height="26.95" fill="#fcdca2"/>
<rect x="457.35" y="50.90" width="25.95" height="26.95" fill="#f4bf85"/>
<rect x="482.70" y="50.90" width="25.95" height="26.95" fill="#fcdca2"/>
<rect x="508.05" y="50.90" width="25.95" height="26.95" fill="#fbd79c"/>
<rect x="533.40" y="50.90" width="25.95" height="26.95" fill="#fcdca2"/>
<rect x="558.75" y="50.90" width="25.95" height="26.95" fill="#fcda9f"/>
<rect x="584.10" y="50.90" width="25.95" height="26.95" fill="#fce1ac"/>
<rect x="609.45" y="50.90" width="25.95" height="26.95" fill="#fde8bb"/>
<rect x="634.80" y="50.90" width="25.95" height="26.95" fill="#fde6b6"/>
<rect x="660.15" y="50.90" width="25.65" height="26.95" fill="#fcdea5"/>
<rect x="381.30" y="77.25" width="25.95" height="26.95" fill="#f9cd90"/>
<rect x="406.65" y="77.25" width="25.95" height="26.95" fill="#fad499"/>
<rect x="432.00" y="77.25" width="25.95" height="26.95" fill="#fcdca2"/>
<rect x="457.35" y="77.25" width="25.95" height="26.95" fill="#f6c589"/>
<rect x="482.70" y="77.25" width="25.95" height="26.95" fill="#fcdea5"/>
<rect x="508.05" y="77.25" width="25.95" height="26.95" fill="#fcdca2"/>
<rect x="533.40" y="77.25" width="25.95" height="26.95" fill="#fcda9f"/>
<rect x="558.75" y="77.25" width="25.95" height="26.95" fill="#fcdca2"/>
<rect x="584.10" y="77.25" width="25.95" height="26.95" fill="#fcdfa9"/>
<rect x="609.45" y="77.25" width="25.95" height="26.95" fill="#fde8bb"/>
<rect x="634.80" y="77.25" width="25.95" height="26.95" fill="#fde6b6"/>
<rect x="660.15" y="77.25" width="25.65" height="26.95" fill="#fad296"/>
<rect x="381.30" y="103.60" width="25.95" height="26.95" fill="#f9cd90"/>
<rect x="406.65" y="103.60" width="25.95" height="26.95" fill="#fad296"/>
<rect x="432.00" y="103.60" width="25.95" height="26.95" fill="#fcda9f"/>
<rect x="457.35" y="103.60" width="25.95" height="26.95" fill="#f2ba80"/>
<rect x="482.70" y="103.60" width="25.95" height="26.95" fill="#fde3af"/>
<rect x="508.05" y="103.60" width="25.95" height="26.95" fill="#fad499"/>
<rect x="533.40" y="103.60" width="25.95" height="26.95" fill="#fbd79c"/>
<rect x="558.75" y="103.60" width="25.95" height="26.95" fill="#fcda9f"/>
<rect x="584.10" y="103.60" width="25.95" height="26.95" fill="#fde3af"/>
<rect x="609.45" y="103.60" width="25.95" height="26.95" fill="#fdecc6"/>
<rect x="634.80" y="103.60" width="25.95" height="26.95" fill="#fde6b6"/>
<rect x="660.15" y="103.60" width="25.65" height="26.95" fill="#fcdfa9"/>
<rect x="381.30" y="129.95" width="25.95" height="26.95" fill="#fad093"/>
<rect x="406.65" y="129.95" width="25.95" height="26.95" fill="#fad093"/>
<rect x="432.00" y="129.95" width="25.95" height="26.95" fill="#fcdca2"/>
<rect x="457.35" y="129.95" width="25.95" height="26.95" fill="#f9cd90"/>
<rect x="482.70" y="129.95" width="25.95" height="26.95" fill="#fad296"/>
<rect x="508.05" y="129.95" width="25.95" height="26.95" fill="#fad296"/>
<rect x="533.40" y="129.95" width="25.95" height="26.95" fill="#fcdea5"/>
<rect x="558.75" y="129.95" width="25.95" height="26.95" fill="#fcda9f"/>
<rect x="584.10" y="129.95" width="25.95" height="26.95" fill="#fde8bb"/>
<rect x="609.45" y="129.95" width="25.95" height="26.95" fill="#fdedcb"/>
<rect x="634.80" y="129.95" width="25.95" height="26.95" fill="#fde6b6"/>
<rect x="660.15" y="129.95" width="25.65" height="26.95" fill="#fbd79c"/>
<rect x="381.30" y="156.30" width="25.95" height="26.95" fill="#fad093"/>
<rect x="406.65" y="156.30" width="25.95" height="26.95" fill="#fad296"/>
<rect x="432.00" y="156.30" width="25.95" height="26.95" fill="#fbd79c"/>
<rect x="457.35" y="156.30" width="25.95" height="26.95" fill="#f5c287"/>
<rect x="482.70" y="156.30" width="25.95" height="26.95" fill="#fcda9f"/>
<rect x="508.05" y="156.30" width="25.95" height="26.95" fill="#f9cd90"/>
<rect x="533.40" y="156.30" width="25.95" height="26.95" fill="#fad499"/>
<rect x="558.75" y="156.30" width="25.95" height="26.95" fill="#fad296"/>
<rect x="584.10" y="156.30" width="25.95" height="26.95" fill="#fde6b6"/>
<rect x="609.45" y="156.30" width="25.95" height="26.95" fill="#fdf1d6"/>
<rect x="634.80" y="156.30" width="25.95" height="26.95" fill="#fde6b6"/>
<rect x="660.15" y="156.30" width="25.65" height="26.95" fill="#fad499"/>
<rect x="381.30" y="182.65" width="25.95" height="26.95" fill="#f7c88b"/>
<rect x="406.65" y="182.65" width="25.95" height="26.95" fill="#fad093"/>
<rect x="432.00" y="182.65" width="25.95" height="26.95" fill="#fcdea5"/>
<rect x="457.35" y="182.65" width="25.95" height="26.95" fill="#f2ba80"/>
<rect x="482.70" y="182.65" width="25.95" height="26.95" fill="#fbd79c"/>
<rect x="508.05" y="182.65" width="25.95" height="26.95" fill="#fad499"/>
<rect x="533.40" y="182.65" width="25.95" height="26.95" fill="#f8ca8e"/>
<rect x="558.75" y="182.65" width="25.95" height="26.95" fill="#fad499"/>
<rect x="584.10" y="182.65" width="25.95" height="26.95" fill="#fcda9f"/>
<rect x="609.45" y="182.65" width="25.95" height="26.95" fill="#fde6b6"/>
<rect x="634.80" y="182.65" width="25.95" height="26.95" fill="#fce1ac"/>
<rect x="660.15" y="182.65" width="25.65" height="26.95" fill="#fad499"/>
<rect x="381.30" y="209.00" width="25.95" height="26.95" fill="#f8ca8e"/>
<rect x="406.65" y="209.00" width="25.95" height="26.95" fill="#fad093"/>
<rect x="432.00" y="209.00" width="25.95" height="26.95" fill="#fad296"/>
<rect x="457.35" y="209.00" width="25.95" height="26.95" fill="#f2ba80"/>
<rect x="482.70" y="209.00" width="25.95" height="26.95" fill="#fbd79c"/>
<rect x="508.05" y="209.00" width="25.95" height="26.95" fill="#f9cd90"/>
<rect x="533.40" y="209.00" width="25.95" height="26.95" fill="#f8ca8e"/>
<rect x="558.75" y="209.00" width="25.95" height="26.95" fill="#f8ca8e"/>
<rect x="584.10" y="209.00" width="25.95" height="26.95" fill="#fcdea5"/>
<rect x="609.45" y="209.00" width="25.95" height="26.95" fill="#fde6b6"/>
<rect x="634.80" y="209.00" width="25.95" height="26.95" fill="#fcdea5"/>
<rect x="660.15" y="209.00" width="25.65" height="26.95" fill="#fad093"/>
<rect x="381.30" y="235.35" width="25.95" height="26.95" fill="#f7c88b"/>
<rect x="406.65" y="235.35" width="25.95" height="26.95" fill="#fad093"/>
<rect x="432.00" y="235.35" width="25.95" height="26.95" fill="#fcdca2"/>
<rect x="457.35" y="235.35" width="25.95" height="26.95" fill="#f4bf85"/>
<rect x="482.70" y="235.35" width="25.95" height="26.95" fill="#fbd79c"/>
<rect x="508.05" y="235.35" width="25.95" height="26.95" fill="#fbd79c"/>
<rect x="533.40" y="235.35" width="25.95" height="26.95" fill="#fbd79c"/>
<rect x="558.75" y="235.35" width="25.95" height="26.95" fill="#fad499"/>
<rect x="584.10" y="235.35" width="25.95" height="26.95" fill="#fcdca2"/>
<rect x="609.45" y="235.35" width="25.95" height="26.95" fill="#fde6b6"/>
<rect x="634.80" y="235.35" width="25.95" height="26.95" fill="#fde4b3"/>
<rect x="660.15" y="235.35" width="25.65" height="26.95" fill="#fbd79c"/>
<rect x="381.30" y="261.70" width="25.95" height="26.95" fill="#fad296"/>
<rect x="406.65" y="261.70" width="25.95" height="26.95" fill="#fad093"/>
<rect x="432.00" y="261.70" width="25.95" height="26.95" fill="#fcdca2"/>
<rect x="457.35" y="261.70" width="25.95" height="26.95" fill="#f3bd82"/>
<rect x="482.70" y="261.70" width="25.95" height="26.95" fill="#fbd79c"/>
<rect x="508.05" y="261.70" width="25.95" height="26.95" fill="#fad296"/>
<rect x="533.40" y="261.70" width="25.95" height="26.95" fill="#fad499"/>
<rect x="558.75" y="261.70" width="25.95" height="26.95" fill="#fbd79c"/>
<rect x="584.10" y="261.70" width="25.95" height="26.95" fill="#fcda9f"/>
<rect x="609.45" y="261.70" width="25.95" height="26.95" fill="#fcdea5"/>
<rect x="634.80" y="261.70" width="25.95" height="26.95" fill="#fce1ac"/>
<rect x="660.15" y="261.70" width="25.65" height="26.95" fill="#fad093"/>
<rect x="381.30" y="288.05" width="25.95" height="26.95" fill="#f9cd90"/>
<rect x="406.65" y="288.05" width="25.95" height="26.95" fill="#fad296"/>
<rect x="432.00" y="288.05" width="25.95" height="26.95" fill="#fde3af"/>
<rect x="457.35" y="288.05" width="25.95" height="26.95" fill="#f3bd82"/>
<rect x="482.70" y="288.05" width="25.95" height="26.95" fill="#fcda9f"/>
<rect x="508.05" y="288.05" width="25.95" height="26.95" fill="#fcda9f"/>
<rect x="533.40" y="288.05" width="25.95" height="26.95" fill="#fcda9f"/>
<rect x="558.75" y="288.05" width="25.95" height="26.95" fill="#fcdca2"/>
<rect x="584.10" y="288.05" width="25.95" height="26.95" fill="#fcdca2"/>
<rect x="609.45" y="288.05" width="25.95" height="26.95" fill="#fdedcb"/>
<rect x="634.80" y="288.05" width="25.95" height="26.95" fill="#fcda9f"/>
<rect x="660.15" y="288.05" width="25.65" height="26.95" fill="#fad093"/>
<rect x="381.30" y="314.40" width="25.95" height="26.45" fill="#fad093"/>
<rect x="406.65" y="314.40" width="25.95" height="26.45" fill="#fad296"/>
<rect x="432.00" y="314.40" width="25.95" height="26.45" fill="#fcdca2"/>
<rect x="457.35" y="314.40" width="25.95" height="26.45" fill="#f5c287"/>
<rect x="482.70" y="314.40" width="25.95" height="26.45" fill="#fcda9f"/>
<rect x="508.05" y="314.40" width="25.95" height="26.45" fill="#fad296"/>
<rect x="533.40" y="314.40" width="25.95" height="26.45" fill="#fad499"/>
<rect x="558.75" y="314.40" width="25.95" height="26.45" fill="#fcda9f"/>
<rect x="584.10" y="314.40" width="25.95" height="26.45" fill="#fcdea5"/>
<rect x="609.45" y="314.40" width="25.95" height="26.45" fill="#fde8bb"/>
<rect x="634.80" y="314.40" width="25.95" height="26.45" fill="#fcdfa9"/>
<rect x="660.15" y="314.40" width="25.65" height="26.45" fill="#f9cd90"/>
<text x="393.98" y="41.48" font-size="10.3" text-anchor="middle" textLength="11.5" lengthAdjust="spacingAndGlyphs" stroke="#000" stroke-width="0.2">88</text>
<text x="419.33" y="41.48" font-size="10.3" text-anchor="middle" textLength="11.5" lengthAdjust="spacingAndGlyphs" stroke="#000" stroke-width="0.2">83</text>
<text x="444.68" y="41.48" font-size="10.3" text-anchor="middle" textLength="11.5" lengthAdjust="spacingAndGlyphs" stroke="#000" stroke-width="0.2">80</text>
<text x="470.03" y="41.48" font-size="10.3" text-anchor="middle" textLength="11.5" lengthAdjust="spacingAndGlyphs" stroke="#000" stroke-width="0.2">93</text>
<text x="495.38" y="41.48" font-size="10.3" text-anchor="middle" textLength="11.5" lengthAdjust="spacingAndGlyphs" stroke="#000" stroke-width="0.2">79</text>
<text x="520.73" y="41.48" font-size="10.3" text-anchor="middle" textLength="11.5" lengthAdjust="spacingAndGlyphs" stroke="#000" stroke-width="0.2">81</text>
<text x="546.08" y="41.48" font-size="10.3" text-anchor="middle" textLength="11.5" lengthAdjust="spacingAndGlyphs" stroke="#000" stroke-width="0.2">84</text>
<text x="571.42" y="41.48" font-size="10.3" text-anchor="middle" textLength="11.5" lengthAdjust="spacingAndGlyphs" stroke="#000" stroke-width="0.2">83</text>
<text x="596.77" y="41.48" font-size="10.3" text-anchor="middle" textLength="11.5" lengthAdjust="spacingAndGlyphs" stroke="#000" stroke-width="0.2">75</text>
<text x="622.12" y="41.48" font-size="10.3" text-anchor="middle" textLength="11.5" lengthAdjust="spacingAndGlyphs" stroke="#000" stroke-width="0.2">72</text>
<text x="647.47" y="41.48" font-size="10.3" text-anchor="middle" textLength="11.5" lengthAdjust="spacingAndGlyphs" stroke="#000" stroke-width="0.2">72</text>
<text x="672.83" y="41.48" font-size="10.3" text-anchor="middle" textLength="11.5" lengthAdjust="spacingAndGlyphs" stroke="#000" stroke-width="0.2">81</text>
<text x="393.98" y="67.83" font-size="10.3" text-anchor="middle" textLength="11.5" lengthAdjust="spacingAndGlyphs" stroke="#000" stroke-width="0.2">85</text>
<text x="419.33" y="67.83" font-size="10.3" text-anchor="middle" textLength="11.5" lengthAdjust="spacingAndGlyphs" stroke="#000" stroke-width="0.2">86</text>
<text x="444.68" y="67.83" font-size="10.3" text-anchor="middle" textLength="11.5" lengthAdjust="spacingAndGlyphs" stroke="#000" stroke-width="0.2">80</text>
<text x="470.03" y="67.83" font-size="10.3" text-anchor="middle" textLength="11.5" lengthAdjust="spacingAndGlyphs" stroke="#000" stroke-width="0.2">91</text>
<text x="495.38" y="67.83" font-size="10.3" text-anchor="middle" textLength="11.5" lengthAdjust="spacingAndGlyphs" stroke="#000" stroke-width="0.2">80</text>
<text x="520.73" y="67.83" font-size="10.3" text-anchor="middle" textLength="11.5" lengthAdjust="spacingAndGlyphs" stroke="#000" stroke-width="0.2">82</text>
<text x="546.08" y="67.83" font-size="10.3" text-anchor="middle" textLength="11.5" lengthAdjust="spacingAndGlyphs" stroke="#000" stroke-width="0.2">80</text>
<text x="571.42" y="67.83" font-size="10.3" text-anchor="middle" textLength="11.5" lengthAdjust="spacingAndGlyphs" stroke="#000" stroke-width="0.2">81</text>
<text x="596.77" y="67.83" font-size="10.3" text-anchor="middle" textLength="11.5" lengthAdjust="spacingAndGlyphs" stroke="#000" stroke-width="0.2">77</text>
<text x="622.12" y="67.83" font-size="10.3" text-anchor="middle" textLength="11.5" lengthAdjust="spacingAndGlyphs" stroke="#000" stroke-width="0.2">73</text>
<text x="647.47" y="67.83" font-size="10.3" text-anchor="middle" textLength="11.5" lengthAdjust="spacingAndGlyphs" stroke="#000" stroke-width="0.2">74</text>
<text x="672.83" y="67.83" font-size="10.3" text-anchor="middle" textLength="11.5" lengthAdjust="spacingAndGlyphs" stroke="#000" stroke-width="0.2">79</text>
<text x="393.98" y="94.17" font-size="10.3" text-anchor="middle" textLength="11.5" lengthAdjust="spacingAndGlyphs" stroke="#000" stroke-width="0.2">86</text>
<text x="419.33" y="94.17" font-size="10.3" text-anchor="middle" textLength="11.5" lengthAdjust="spacingAndGlyphs" stroke="#000" stroke-width="0.2">83</text>
<text x="444.68" y="94.17" font-size="10.3" text-anchor="middle" textLength="11.5" lengthAdjust="spacingAndGlyphs" stroke="#000" stroke-width="0.2">80</text>
<text x="470.03" y="94.17" font-size="10.3" text-anchor="middle" textLength="11.5" lengthAdjust="spacingAndGlyphs" stroke="#000" stroke-width="0.2">89</text>
<text x="495.38" y="94.17" font-size="10.3" text-anchor="middle" textLength="11.5" lengthAdjust="spacingAndGlyphs" stroke="#000" stroke-width="0.2">79</text>
<text x="520.73" y="94.17" font-size="10.3" text-anchor="middle" textLength="11.5" lengthAdjust="spacingAndGlyphs" stroke="#000" stroke-width="0.2">80</text>
<text x="546.08" y="94.17" font-size="10.3" text-anchor="middle" textLength="11.5" lengthAdjust="spacingAndGlyphs" stroke="#000" stroke-width="0.2">81</text>
<text x="571.42" y="94.17" font-size="10.3" text-anchor="middle" textLength="11.5" lengthAdjust="spacingAndGlyphs" stroke="#000" stroke-width="0.2">80</text>
<text x="596.77" y="94.17" font-size="10.3" text-anchor="middle" textLength="11.5" lengthAdjust="spacingAndGlyphs" stroke="#000" stroke-width="0.2">78</text>
<text x="622.12" y="94.17" font-size="10.3" text-anchor="middle" textLength="11.5" lengthAdjust="spacingAndGlyphs" stroke="#000" stroke-width="0.2">73</text>
<text x="647.47" y="94.17" font-size="10.3" text-anchor="middle" textLength="11.5" lengthAdjust="spacingAndGlyphs" stroke="#000" stroke-width="0.2">74</text>
<text x="672.83" y="94.17" font-size="10.3" text-anchor="middle" textLength="11.5" lengthAdjust="spacingAndGlyphs" stroke="#000" stroke-width="0.2">84</text>
<text x="393.98" y="120.53" font-size="10.3" text-anchor="middle" textLength="11.5" lengthAdjust="spacingAndGlyphs" stroke="#000" stroke-width="0.2">86</text>
<text x="419.33" y="120.53" font-size="10.3" text-anchor="middle" textLength="11.5" lengthAdjust="spacingAndGlyphs" stroke="#000" stroke-width="0.2">84</text>
<text x="444.68" y="120.53" font-size="10.3" text-anchor="middle" textLength="11.5" lengthAdjust="spacingAndGlyphs" stroke="#000" stroke-width="0.2">81</text>
<text x="470.03" y="120.53" font-size="10.3" text-anchor="middle" textLength="11.5" lengthAdjust="spacingAndGlyphs" stroke="#000" stroke-width="0.2">93</text>
<text x="495.38" y="120.53" font-size="10.3" text-anchor="middle" textLength="11.5" lengthAdjust="spacingAndGlyphs" stroke="#000" stroke-width="0.2">76</text>
<text x="520.73" y="120.53" font-size="10.3" text-anchor="middle" textLength="11.5" lengthAdjust="spacingAndGlyphs" stroke="#000" stroke-width="0.2">83</text>
<text x="546.08" y="120.53" font-size="10.3" text-anchor="middle" textLength="11.5" lengthAdjust="spacingAndGlyphs" stroke="#000" stroke-width="0.2">82</text>
<text x="571.42" y="120.53" font-size="10.3" text-anchor="middle" textLength="11.5" lengthAdjust="spacingAndGlyphs" stroke="#000" stroke-width="0.2">81</text>
<text x="596.77" y="120.53" font-size="10.3" text-anchor="middle" textLength="11.5" lengthAdjust="spacingAndGlyphs" stroke="#000" stroke-width="0.2">76</text>
<text x="622.12" y="120.53" font-size="10.3" text-anchor="middle" textLength="11.5" lengthAdjust="spacingAndGlyphs" stroke="#000" stroke-width="0.2">71</text>
<text x="647.47" y="120.53" font-size="10.3" text-anchor="middle" textLength="11.5" lengthAdjust="spacingAndGlyphs" stroke="#000" stroke-width="0.2">74</text>
<text x="672.83" y="120.53" font-size="10.3" text-anchor="middle" textLength="11.5" lengthAdjust="spacingAndGlyphs" stroke="#000" stroke-width="0.2">78</text>
<text x="393.98" y="146.88" font-size="10.3" text-anchor="middle" textLength="11.5" lengthAdjust="spacingAndGlyphs" stroke="#000" stroke-width="0.2">85</text>
<text x="419.33" y="146.88" font-size="10.3" text-anchor="middle" textLength="11.5" lengthAdjust="spacingAndGlyphs" stroke="#000" stroke-width="0.2">85</text>
<text x="444.68" y="146.88" font-size="10.3" text-anchor="middle" textLength="11.5" lengthAdjust="spacingAndGlyphs" stroke="#000" stroke-width="0.2">80</text>
<text x="470.03" y="146.88" font-size="10.3" text-anchor="middle" textLength="11.5" lengthAdjust="spacingAndGlyphs" stroke="#000" stroke-width="0.2">86</text>
<text x="495.38" y="146.88" font-size="10.3" text-anchor="middle" textLength="11.5" lengthAdjust="spacingAndGlyphs" stroke="#000" stroke-width="0.2">84</text>
<text x="520.73" y="146.88" font-size="10.3" text-anchor="middle" textLength="11.5" lengthAdjust="spacingAndGlyphs" stroke="#000" stroke-width="0.2">84</text>
<text x="546.08" y="146.88" font-size="10.3" text-anchor="middle" textLength="11.5" lengthAdjust="spacingAndGlyphs" stroke="#000" stroke-width="0.2">79</text>
<text x="571.42" y="146.88" font-size="10.3" text-anchor="middle" textLength="11.5" lengthAdjust="spacingAndGlyphs" stroke="#000" stroke-width="0.2">81</text>
<text x="596.77" y="146.88" font-size="10.3" text-anchor="middle" textLength="11.5" lengthAdjust="spacingAndGlyphs" stroke="#000" stroke-width="0.2">73</text>
<text x="622.12" y="146.88" font-size="10.3" text-anchor="middle" textLength="11.5" lengthAdjust="spacingAndGlyphs" stroke="#000" stroke-width="0.2">70</text>
<text x="647.47" y="146.88" font-size="10.3" text-anchor="middle" textLength="11.5" lengthAdjust="spacingAndGlyphs" stroke="#000" stroke-width="0.2">74</text>
<text x="672.83" y="146.88" font-size="10.3" text-anchor="middle" textLength="11.5" lengthAdjust="spacingAndGlyphs" stroke="#000" stroke-width="0.2">82</text>
<text x="393.98" y="173.23" font-size="10.3" text-anchor="middle" textLength="11.5" lengthAdjust="spacingAndGlyphs" stroke="#000" stroke-width="0.2">85</text>
<text x="419.33" y="173.23" font-size="10.3" text-anchor="middle" textLength="11.5" lengthAdjust="spacingAndGlyphs" stroke="#000" stroke-width="0.2">84</text>
<text x="444.68" y="173.23" font-size="10.3" text-anchor="middle" textLength="11.5" lengthAdjust="spacingAndGlyphs" stroke="#000" stroke-width="0.2">82</text>
<text x="470.03" y="173.23" font-size="10.3" text-anchor="middle" textLength="11.5" lengthAdjust="spacingAndGlyphs" stroke="#000" stroke-width="0.2">90</text>
<text x="495.38" y="173.23" font-size="10.3" text-anchor="middle" textLength="11.5" lengthAdjust="spacingAndGlyphs" stroke="#000" stroke-width="0.2">81</text>
<text x="520.73" y="173.23" font-size="10.3" text-anchor="middle" textLength="11.5" lengthAdjust="spacingAndGlyphs" stroke="#000" stroke-width="0.2">86</text>
<text x="546.08" y="173.23" font-size="10.3" text-anchor="middle" textLength="11.5" lengthAdjust="spacingAndGlyphs" stroke="#000" stroke-width="0.2">83</text>
<text x="571.42" y="173.23" font-size="10.3" text-anchor="middle" textLength="11.5" lengthAdjust="spacingAndGlyphs" stroke="#000" stroke-width="0.2">84</text>
<text x="596.77" y="173.23" font-size="10.3" text-anchor="middle" textLength="11.5" lengthAdjust="spacingAndGlyphs" stroke="#000" stroke-width="0.2">74</text>
<text x="622.12" y="173.23" font-size="10.3" text-anchor="middle" textLength="11.5" lengthAdjust="spacingAndGlyphs" stroke="#000" stroke-width="0.2">68</text>
<text x="647.47" y="173.23" font-size="10.3" text-anchor="middle" textLength="11.5" lengthAdjust="spacingAndGlyphs" stroke="#000" stroke-width="0.2">74</text>
<text x="672.83" y="173.23" font-size="10.3" text-anchor="middle" textLength="11.5" lengthAdjust="spacingAndGlyphs" stroke="#000" stroke-width="0.2">83</text>
<text x="393.98" y="199.58" font-size="10.3" text-anchor="middle" textLength="11.5" lengthAdjust="spacingAndGlyphs" stroke="#000" stroke-width="0.2">88</text>
<text x="419.33" y="199.58" font-size="10.3" text-anchor="middle" textLength="11.5" lengthAdjust="spacingAndGlyphs" stroke="#000" stroke-width="0.2">85</text>
<text x="444.68" y="199.58" font-size="10.3" text-anchor="middle" textLength="11.5" lengthAdjust="spacingAndGlyphs" stroke="#000" stroke-width="0.2">79</text>
<text x="470.03" y="199.58" font-size="10.3" text-anchor="middle" textLength="11.5" lengthAdjust="spacingAndGlyphs" stroke="#000" stroke-width="0.2">93</text>
<text x="495.38" y="199.58" font-size="10.3" text-anchor="middle" textLength="11.5" lengthAdjust="spacingAndGlyphs" stroke="#000" stroke-width="0.2">82</text>
<text x="520.73" y="199.58" font-size="10.3" text-anchor="middle" textLength="11.5" lengthAdjust="spacingAndGlyphs" stroke="#000" stroke-width="0.2">83</text>
<text x="546.08" y="199.58" font-size="10.3" text-anchor="middle" textLength="11.5" lengthAdjust="spacingAndGlyphs" stroke="#000" stroke-width="0.2">87</text>
<text x="571.42" y="199.58" font-size="10.3" text-anchor="middle" textLength="11.5" lengthAdjust="spacingAndGlyphs" stroke="#000" stroke-width="0.2">83</text>
<text x="596.77" y="199.58" font-size="10.3" text-anchor="middle" textLength="11.5" lengthAdjust="spacingAndGlyphs" stroke="#000" stroke-width="0.2">81</text>
<text x="622.12" y="199.58" font-size="10.3" text-anchor="middle" textLength="11.5" lengthAdjust="spacingAndGlyphs" stroke="#000" stroke-width="0.2">74</text>
<text x="647.47" y="199.58" font-size="10.3" text-anchor="middle" textLength="11.5" lengthAdjust="spacingAndGlyphs" stroke="#000" stroke-width="0.2">77</text>
<text x="672.83" y="199.58" font-size="10.3" text-anchor="middle" textLength="11.5" lengthAdjust="spacingAndGlyphs" stroke="#000" stroke-width="0.2">83</text>
<text x="393.98" y="225.93" font-size="10.3" text-anchor="middle" textLength="11.5" lengthAdjust="spacingAndGlyphs" stroke="#000" stroke-width="0.2">87</text>
<text x="419.33" y="225.93" font-size="10.3" text-anchor="middle" textLength="11.5" lengthAdjust="spacingAndGlyphs" stroke="#000" stroke-width="0.2">85</text>
<text x="444.68" y="225.93" font-size="10.3" text-anchor="middle" textLength="11.5" lengthAdjust="spacingAndGlyphs" stroke="#000" stroke-width="0.2">84</text>
<text x="470.03" y="225.93" font-size="10.3" text-anchor="middle" textLength="11.5" lengthAdjust="spacingAndGlyphs" stroke="#000" stroke-width="0.2">93</text>
<text x="495.38" y="225.93" font-size="10.3" text-anchor="middle" textLength="11.5" lengthAdjust="spacingAndGlyphs" stroke="#000" stroke-width="0.2">82</text>
<text x="520.73" y="225.93" font-size="10.3" text-anchor="middle" textLength="11.5" lengthAdjust="spacingAndGlyphs" stroke="#000" stroke-width="0.2">86</text>
<text x="546.08" y="225.93" font-size="10.3" text-anchor="middle" textLength="11.5" lengthAdjust="spacingAndGlyphs" stroke="#000" stroke-width="0.2">87</text>
<text x="571.42" y="225.93" font-size="10.3" text-anchor="middle" textLength="11.5" lengthAdjust="spacingAndGlyphs" stroke="#000" stroke-width="0.2">87</text>
<text x="596.77" y="225.93" font-size="10.3" text-anchor="middle" textLength="11.5" lengthAdjust="spacingAndGlyphs" stroke="#000" stroke-width="0.2">79</text>
<text x="622.12" y="225.93" font-size="10.3" text-anchor="middle" textLength="11.5" lengthAdjust="spacingAndGlyphs" stroke="#000" stroke-width="0.2">74</text>
<text x="647.47" y="225.93" font-size="10.3" text-anchor="middle" textLength="11.5" lengthAdjust="spacingAndGlyphs" stroke="#000" stroke-width="0.2">79</text>
<text x="672.83" y="225.93" font-size="10.3" text-anchor="middle" textLength="11.5" lengthAdjust="spacingAndGlyphs" stroke="#000" stroke-width="0.2">85</text>
<text x="393.98" y="252.28" font-size="10.3" text-anchor="middle" textLength="11.5" lengthAdjust="spacingAndGlyphs" stroke="#000" stroke-width="0.2">88</text>
<text x="419.33" y="252.28" font-size="10.3" text-anchor="middle" textLength="11.5" lengthAdjust="spacingAndGlyphs" stroke="#000" stroke-width="0.2">85</text>
<text x="444.68" y="252.28" font-size="10.3" text-anchor="middle" textLength="11.5" lengthAdjust="spacingAndGlyphs" stroke="#000" stroke-width="0.2">80</text>
<text x="470.03" y="252.28" font-size="10.3" text-anchor="middle" textLength="11.5" lengthAdjust="spacingAndGlyphs" stroke="#000" stroke-width="0.2">91</text>
<text x="495.38" y="252.28" font-size="10.3" text-anchor="middle" textLength="11.5" lengthAdjust="spacingAndGlyphs" stroke="#000" stroke-width="0.2">82</text>
<text x="520.73" y="252.28" font-size="10.3" text-anchor="middle" textLength="11.5" lengthAdjust="spacingAndGlyphs" stroke="#000" stroke-width="0.2">82</text>
<text x="546.08" y="252.28" font-size="10.3" text-anchor="middle" textLength="11.5" lengthAdjust="spacingAndGlyphs" stroke="#000" stroke-width="0.2">82</text>
<text x="571.42" y="252.28" font-size="10.3" text-anchor="middle" textLength="11.5" lengthAdjust="spacingAndGlyphs" stroke="#000" stroke-width="0.2">83</text>
<text x="596.77" y="252.28" font-size="10.3" text-anchor="middle" textLength="11.5" lengthAdjust="spacingAndGlyphs" stroke="#000" stroke-width="0.2">80</text>
<text x="622.12" y="252.28" font-size="10.3" text-anchor="middle" textLength="11.5" lengthAdjust="spacingAndGlyphs" stroke="#000" stroke-width="0.2">74</text>
<text x="647.47" y="252.28" font-size="10.3" text-anchor="middle" textLength="11.5" lengthAdjust="spacingAndGlyphs" stroke="#000" stroke-width="0.2">75</text>
<text x="672.83" y="252.28" font-size="10.3" text-anchor="middle" textLength="11.5" lengthAdjust="spacingAndGlyphs" stroke="#000" stroke-width="0.2">82</text>
<text x="393.98" y="278.62" font-size="10.3" text-anchor="middle" textLength="11.5" lengthAdjust="spacingAndGlyphs" stroke="#000" stroke-width="0.2">84</text>
<text x="419.33" y="278.62" font-size="10.3" text-anchor="middle" textLength="11.5" lengthAdjust="spacingAndGlyphs" stroke="#000" stroke-width="0.2">85</text>
<text x="444.68" y="278.62" font-size="10.3" text-anchor="middle" textLength="11.5" lengthAdjust="spacingAndGlyphs" stroke="#000" stroke-width="0.2">80</text>
<text x="470.03" y="278.62" font-size="10.3" text-anchor="middle" textLength="11.5" lengthAdjust="spacingAndGlyphs" stroke="#000" stroke-width="0.2">92</text>
<text x="495.38" y="278.62" font-size="10.3" text-anchor="middle" textLength="11.5" lengthAdjust="spacingAndGlyphs" stroke="#000" stroke-width="0.2">82</text>
<text x="520.73" y="278.62" font-size="10.3" text-anchor="middle" textLength="11.5" lengthAdjust="spacingAndGlyphs" stroke="#000" stroke-width="0.2">84</text>
<text x="546.08" y="278.62" font-size="10.3" text-anchor="middle" textLength="11.5" lengthAdjust="spacingAndGlyphs" stroke="#000" stroke-width="0.2">83</text>
<text x="571.42" y="278.62" font-size="10.3" text-anchor="middle" textLength="11.5" lengthAdjust="spacingAndGlyphs" stroke="#000" stroke-width="0.2">82</text>
<text x="596.77" y="278.62" font-size="10.3" text-anchor="middle" textLength="11.5" lengthAdjust="spacingAndGlyphs" stroke="#000" stroke-width="0.2">81</text>
<text x="622.12" y="278.62" font-size="10.3" text-anchor="middle" textLength="11.5" lengthAdjust="spacingAndGlyphs" stroke="#000" stroke-width="0.2">79</text>
<text x="647.47" y="278.62" font-size="10.3" text-anchor="middle" textLength="11.5" lengthAdjust="spacingAndGlyphs" stroke="#000" stroke-width="0.2">77</text>
<text x="672.83" y="278.62" font-size="10.3" text-anchor="middle" textLength="11.5" lengthAdjust="spacingAndGlyphs" stroke="#000" stroke-width="0.2">85</text>
<text x="393.98" y="304.98" font-size="10.3" text-anchor="middle" textLength="11.5" lengthAdjust="spacingAndGlyphs" stroke="#000" stroke-width="0.2">86</text>
<text x="419.33" y="304.98" font-size="10.3" text-anchor="middle" textLength="11.5" lengthAdjust="spacingAndGlyphs" stroke="#000" stroke-width="0.2">84</text>
<text x="444.68" y="304.98" font-size="10.3" text-anchor="middle" textLength="11.5" lengthAdjust="spacingAndGlyphs" stroke="#000" stroke-width="0.2">76</text>
<text x="470.03" y="304.98" font-size="10.3" text-anchor="middle" textLength="11.5" lengthAdjust="spacingAndGlyphs" stroke="#000" stroke-width="0.2">92</text>
<text x="495.38" y="304.98" font-size="10.3" text-anchor="middle" textLength="11.5" lengthAdjust="spacingAndGlyphs" stroke="#000" stroke-width="0.2">81</text>
<text x="520.73" y="304.98" font-size="10.3" text-anchor="middle" textLength="11.5" lengthAdjust="spacingAndGlyphs" stroke="#000" stroke-width="0.2">81</text>
<text x="546.08" y="304.98" font-size="10.3" text-anchor="middle" textLength="11.5" lengthAdjust="spacingAndGlyphs" stroke="#000" stroke-width="0.2">81</text>
<text x="571.42" y="304.98" font-size="10.3" text-anchor="middle" textLength="11.5" lengthAdjust="spacingAndGlyphs" stroke="#000" stroke-width="0.2">80</text>
<text x="596.77" y="304.98" font-size="10.3" text-anchor="middle" textLength="11.5" lengthAdjust="spacingAndGlyphs" stroke="#000" stroke-width="0.2">80</text>
<text x="622.12" y="304.98" font-size="10.3" text-anchor="middle" textLength="11.5" lengthAdjust="spacingAndGlyphs" stroke="#000" stroke-width="0.2">70</text>
<text x="647.47" y="304.98" font-size="10.3" text-anchor="middle" textLength="11.5" lengthAdjust="spacingAndGlyphs" stroke="#000" stroke-width="0.2">81</text>
<text x="672.83" y="304.98" font-size="10.3" text-anchor="middle" textLength="11.5" lengthAdjust="spacingAndGlyphs" stroke="#000" stroke-width="0.2">85</text>
<text x="393.98" y="331.33" font-size="10.3" text-anchor="middle" textLength="11.5" lengthAdjust="spacingAndGlyphs" stroke="#000" stroke-width="0.2">85</text>
<text x="419.33" y="331.33" font-size="10.3" text-anchor="middle" textLength="11.5" lengthAdjust="spacingAndGlyphs" stroke="#000" stroke-width="0.2">84</text>
<text x="444.68" y="331.33" font-size="10.3" text-anchor="middle" textLength="11.5" lengthAdjust="spacingAndGlyphs" stroke="#000" stroke-width="0.2">80</text>
<text x="470.03" y="331.33" font-size="10.3" text-anchor="middle" textLength="11.5" lengthAdjust="spacingAndGlyphs" stroke="#000" stroke-width="0.2">90</text>
<text x="495.38" y="331.33" font-size="10.3" text-anchor="middle" textLength="11.5" lengthAdjust="spacingAndGlyphs" stroke="#000" stroke-width="0.2">81</text>
<text x="520.73" y="331.33" font-size="10.3" text-anchor="middle" textLength="11.5" lengthAdjust="spacingAndGlyphs" stroke="#000" stroke-width="0.2">84</text>
<text x="546.08" y="331.33" font-size="10.3" text-anchor="middle" textLength="11.5" lengthAdjust="spacingAndGlyphs" stroke="#000" stroke-width="0.2">83</text>
<text x="571.42" y="331.33" font-size="10.3" text-anchor="middle" textLength="11.5" lengthAdjust="spacingAndGlyphs" stroke="#000" stroke-width="0.2">81</text>
<text x="596.77" y="331.33" font-size="10.3" text-anchor="middle" textLength="11.5" lengthAdjust="spacingAndGlyphs" stroke="#000" stroke-width="0.2">79</text>
<text x="622.12" y="331.33" font-size="10.3" text-anchor="middle" textLength="11.5" lengthAdjust="spacingAndGlyphs" stroke="#000" stroke-width="0.2">73</text>
<text x="647.47" y="331.33" font-size="10.3" text-anchor="middle" textLength="11.5" lengthAdjust="spacingAndGlyphs" stroke="#000" stroke-width="0.2">78</text>
<text x="672.83" y="331.33" font-size="10.3" text-anchor="middle" textLength="11.5" lengthAdjust="spacingAndGlyphs" stroke="#000" stroke-width="0.2">86</text>
<text x="375.40" y="41.33" font-size="11.55" fill="#000" text-anchor="end" textLength="11.03" lengthAdjust="spacingAndGlyphs">a)</text>
<text x="375.40" y="67.67" font-size="11.55" fill="#000" text-anchor="end" textLength="11.27" lengthAdjust="spacingAndGlyphs">b)</text>
<text x="375.40" y="94.02" font-size="11.55" fill="#000" text-anchor="end" textLength="10.34" lengthAdjust="spacingAndGlyphs">c)</text>
<text x="375.40" y="120.38" font-size="11.55" fill="#d00000" text-anchor="end" font-weight="bold" textLength="12.90" lengthAdjust="spacingAndGlyphs">d)</text>
<text x="375.40" y="146.73" font-size="11.55" fill="#000" text-anchor="end" textLength="11.06" lengthAdjust="spacingAndGlyphs">e)</text>
<text x="375.40" y="173.08" font-size="11.55" fill="#000" text-anchor="end" textLength="8.16" lengthAdjust="spacingAndGlyphs">f)</text>
<text x="375.40" y="199.43" font-size="11.55" fill="#000" text-anchor="end" textLength="11.27" lengthAdjust="spacingAndGlyphs">g)</text>
<text x="375.40" y="225.78" font-size="11.55" fill="#000" text-anchor="end" textLength="11.26" lengthAdjust="spacingAndGlyphs">h)</text>
<text x="375.40" y="252.13" font-size="11.55" fill="#000" text-anchor="end" textLength="7.35" lengthAdjust="spacingAndGlyphs">i)</text>
<text x="375.40" y="278.48" font-size="11.55" fill="#000" text-anchor="end" textLength="7.35" lengthAdjust="spacingAndGlyphs">j)</text>
<text x="375.40" y="304.83" font-size="11.55" fill="#000" text-anchor="end" textLength="10.66" lengthAdjust="spacingAndGlyphs">k)</text>
<text x="375.40" y="331.18" font-size="11.55" fill="#000" text-anchor="end" textLength="7.35" lengthAdjust="spacingAndGlyphs">l)</text>
<text transform="translate(397.08,345.8) rotate(-90)" font-size="11" text-anchor="end" fill="#000" textLength="10.53" lengthAdjust="spacingAndGlyphs">a)</text>
<text transform="translate(422.43,345.8) rotate(-90)" font-size="11" text-anchor="end" fill="#000" textLength="10.76" lengthAdjust="spacingAndGlyphs">b)</text>
<text transform="translate(447.78,345.8) rotate(-90)" font-size="11" text-anchor="end" fill="#000" textLength="9.87" lengthAdjust="spacingAndGlyphs">c)</text>
<text transform="translate(474.93,345.8) rotate(-90)" font-size="11" text-anchor="end" fill="#d00000" font-weight="bold" textLength="12.31" lengthAdjust="spacingAndGlyphs">d)</text>
<text transform="translate(498.48,345.8) rotate(-90)" font-size="11" text-anchor="end" fill="#000" textLength="10.56" lengthAdjust="spacingAndGlyphs">e)</text>
<text transform="translate(523.83,345.8) rotate(-90)" font-size="11" text-anchor="end" fill="#000" textLength="7.79" lengthAdjust="spacingAndGlyphs">f)</text>
<text transform="translate(549.18,345.8) rotate(-90)" font-size="11" text-anchor="end" fill="#000" textLength="10.76" lengthAdjust="spacingAndGlyphs">g)</text>
<text transform="translate(574.52,345.8) rotate(-90)" font-size="11" text-anchor="end" fill="#000" textLength="10.75" lengthAdjust="spacingAndGlyphs">h)</text>
<text transform="translate(599.88,345.8) rotate(-90)" font-size="11" text-anchor="end" fill="#000" textLength="7.01" lengthAdjust="spacingAndGlyphs">i)</text>
<text transform="translate(625.23,345.8) rotate(-90)" font-size="11" text-anchor="end" fill="#000" textLength="7.01" lengthAdjust="spacingAndGlyphs">j)</text>
<text transform="translate(650.57,345.8) rotate(-90)" font-size="11" text-anchor="end" fill="#000" textLength="10.18" lengthAdjust="spacingAndGlyphs">k)</text>
<text transform="translate(675.93,345.8) rotate(-90)" font-size="11" text-anchor="end" fill="#000" textLength="7.01" lengthAdjust="spacingAndGlyphs">l)</text>
<text transform="translate(362.95,387.50) scale(0.2481,0.2531)" font-size="100" fill="#000" stroke="#000" stroke-width="1.60">D</text>
<text transform="translate(381.11,387.02) scale(0.2514,0.2402)" font-size="100" fill="#000" stroke="#000" stroke-width="1.63">)</text>
<g stroke="#dddddd" stroke-width="1">
<line x1="396.8" y1="479.20" x2="685" y2="479.20"/>
<line x1="396.8" y1="460.75" x2="685" y2="460.75"/>
<line x1="396.8" y1="442.30" x2="685" y2="442.30"/>
<line x1="396.8" y1="423.85" x2="685" y2="423.85"/>
<line x1="396.8" y1="405.40" x2="685" y2="405.40"/>
<line x1="413.50" y1="401.9" x2="413.50" y2="479.2"/>
<line x1="436.93" y1="401.9" x2="436.93" y2="479.2"/>
<line x1="460.36" y1="401.9" x2="460.36" y2="479.2"/>
<line x1="483.79" y1="401.9" x2="483.79" y2="479.2"/>
<line x1="507.22" y1="401.9" x2="507.22" y2="479.2"/>
<line x1="530.65" y1="401.9" x2="530.65" y2="479.2"/>
<line x1="554.08" y1="401.9" x2="554.08" y2="479.2"/>
<line x1="577.51" y1="401.9" x2="577.51" y2="479.2"/>
<line x1="600.94" y1="401.9" x2="600.94" y2="479.2"/>
<line x1="624.37" y1="401.9" x2="624.37" y2="479.2"/>
<line x1="647.80" y1="401.9" x2="647.80" y2="479.2"/>
<line x1="671.23" y1="401.9" x2="671.23" y2="479.2"/>
</g>
<g stroke="#4d4d4d" stroke-width="0.7">
<line x1="394" y1="479.20" x2="396.6" y2="479.20"/>
<line x1="394" y1="460.75" x2="396.6" y2="460.75"/>
<line x1="394" y1="442.30" x2="396.6" y2="442.30"/>
<line x1="394" y1="423.85" x2="396.6" y2="423.85"/>
<line x1="394" y1="405.40" x2="396.6" y2="405.40"/>
<line x1="413.50" y1="479.2" x2="413.50" y2="482.2"/>
<line x1="436.93" y1="479.2" x2="436.93" y2="482.2"/>
<line x1="460.36" y1="479.2" x2="460.36" y2="482.2"/>
<line x1="483.79" y1="479.2" x2="483.79" y2="482.2"/>
<line x1="507.22" y1="479.2" x2="507.22" y2="482.2"/>
<line x1="530.65" y1="479.2" x2="530.65" y2="482.2"/>
<line x1="554.08" y1="479.2" x2="554.08" y2="482.2"/>
<line x1="577.51" y1="479.2" x2="577.51" y2="482.2"/>
<line x1="600.94" y1="479.2" x2="600.94" y2="482.2"/>
<line x1="624.37" y1="479.2" x2="624.37" y2="482.2"/>
<line x1="647.80" y1="479.2" x2="647.80" y2="482.2"/>
<line x1="671.23" y1="479.2" x2="671.23" y2="482.2"/>
</g>
<text x="392.80" y="481.70" font-size="6.9" fill="#555" text-anchor="end">0</text>
<text x="392.80" y="463.25" font-size="6.9" fill="#555" text-anchor="end">25000</text>
<text x="392.80" y="444.80" font-size="6.9" fill="#555" text-anchor="end">50000</text>
<text x="392.80" y="426.35" font-size="6.9" fill="#555" text-anchor="end">75000</text>
<text x="392.80" y="407.90" font-size="6.9" fill="#555" text-anchor="end">100000</text>
<text transform="translate(372.3,442) rotate(-90)" font-size="10" text-anchor="middle" fill="#333"># enhancer</text>
<rect x="403.00" y="453.7" width="21" height="6.40" fill="#c6d9f1"/>
<rect x="403.00" y="460.1" width="21" height="19.10" fill="#fcc9a1"/>
<rect x="426.43" y="457.7" width="21" height="2.70" fill="#c6d9f1"/>
<rect x="426.43" y="460.4" width="21" height="18.80" fill="#fcc9a1"/>
<rect x="449.86" y="446.7" width="21" height="12.40" fill="#c6d9f1"/>
<rect x="449.86" y="459.1" width="21" height="20.10" fill="#fcc9a1"/>
<rect x="473.29" y="440.7" width="21" height="18.80" fill="#c6d9f1"/>
<rect x="473.29" y="459.5" width="21" height="19.70" fill="#fcc9a1"/>
<rect x="496.72" y="443.5" width="21" height="15.20" fill="#c6d9f1"/>
<rect x="496.72" y="458.7" width="21" height="20.50" fill="#fcc9a1"/>
<rect x="520.15" y="452.1" width="21" height="7.40" fill="#c6d9f1"/>
<rect x="520.15" y="459.5" width="21" height="19.70" fill="#fcc9a1"/>
<rect x="543.58" y="449.7" width="21" height="10.40" fill="#c6d9f1"/>
<rect x="543.58" y="460.1" width="21" height="19.10" fill="#fcc9a1"/>
<rect x="567.01" y="456.1" width="21" height="4.00" fill="#c6d9f1"/>
<rect x="567.01" y="460.1" width="21" height="19.10" fill="#fcc9a1"/>
<rect x="590.44" y="431.7" width="21" height="27.00" fill="#c6d9f1"/>
<rect x="590.44" y="458.7" width="21" height="20.50" fill="#fcc9a1"/>
<rect x="613.87" y="447.5" width="21" height="11.60" fill="#c6d9f1"/>
<rect x="613.87" y="459.1" width="21" height="20.10" fill="#fcc9a1"/>
<rect x="637.30" y="405.2" width="21" height="52.50" fill="#c6d9f1"/>
<rect x="637.30" y="457.7" width="21" height="21.50" fill="#fcc9a1"/>
<rect x="660.73" y="441.1" width="21" height="18.40" fill="#c6d9f1"/>
<rect x="660.73" y="459.5" width="21" height="19.70" fill="#fcc9a1"/>
<text x="413.50" y="460.00" font-size="8.7" fill="#3b62a6" text-anchor="middle">0.59</text>
<text x="413.50" y="472.75" font-size="8.7" fill="#d2661e" text-anchor="middle">0.8</text>
<text x="436.93" y="462.15" font-size="8.7" fill="#3b62a6" text-anchor="middle">0.57</text>
<text x="436.93" y="472.90" font-size="8.7" fill="#d2661e" text-anchor="middle">0.79</text>
<text x="460.36" y="456.00" font-size="8.7" fill="#3b62a6" text-anchor="middle">0.6</text>
<text x="460.36" y="472.25" font-size="8.7" fill="#d2661e" text-anchor="middle">0.85</text>
<text x="483.79" y="453.20" font-size="8.7" fill="#3b62a6" text-anchor="middle">0.6</text>
<text x="483.79" y="472.45" font-size="8.7" fill="#d2661e" text-anchor="middle">0.83</text>
<text x="507.22" y="454.20" font-size="8.7" fill="#3b62a6" text-anchor="middle">0.59</text>
<text x="507.22" y="472.05" font-size="8.7" fill="#d2661e" text-anchor="middle">0.81</text>
<text x="530.65" y="458.90" font-size="8.7" fill="#3b62a6" text-anchor="middle">0.57</text>
<text x="530.65" y="472.45" font-size="8.7" fill="#d2661e" text-anchor="middle">0.77</text>
<text x="554.08" y="458.00" font-size="8.7" fill="#3b62a6" text-anchor="middle">0.57</text>
<text x="554.08" y="472.75" font-size="8.7" fill="#d2661e" text-anchor="middle">0.76</text>
<text x="577.51" y="461.20" font-size="8.7" fill="#3b62a6" text-anchor="middle">0.56</text>
<text x="577.51" y="472.75" font-size="8.7" fill="#d2661e" text-anchor="middle">0.73</text>
<text x="600.94" y="448.30" font-size="8.7" fill="#3b62a6" text-anchor="middle">0.61</text>
<text x="600.94" y="472.05" font-size="8.7" fill="#d2661e" text-anchor="middle">0.85</text>
<text x="624.37" y="456.40" font-size="8.7" fill="#3b62a6" text-anchor="middle">0.61</text>
<text x="624.37" y="472.25" font-size="8.7" fill="#d2661e" text-anchor="middle">0.85</text>
<text x="647.80" y="434.55" font-size="8.7" fill="#3b62a6" text-anchor="middle">0.58</text>
<text x="647.80" y="471.55" font-size="8.7" fill="#d2661e" text-anchor="middle">0.79</text>
<text x="671.23" y="453.40" font-size="8.7" fill="#3b62a6" text-anchor="middle">0.6</text>
<text x="671.23" y="472.45" font-size="8.7" fill="#d2661e" text-anchor="middle">0.76</text>
<text x="413.50" y="491.60" font-size="10.8" fill="#000" text-anchor="middle">a</text>
<text x="436.93" y="491.60" font-size="10.8" fill="#000" text-anchor="middle">b</text>
<text x="460.36" y="491.60" font-size="10.8" fill="#000" text-anchor="middle">c</text>
<text x="483.79" y="491.60" font-size="10.8" fill="#d00000" text-anchor="middle">d</text>
<text x="507.22" y="491.60" font-size="10.8" fill="#000" text-anchor="middle">e</text>
<text x="530.65" y="491.60" font-size="10.8" fill="#000" text-anchor="middle">f</text>
<text x="554.08" y="491.60" font-size="10.8" fill="#000" text-anchor="middle">g</text>
<text x="577.51" y="491.60" font-size="10.8" fill="#000" text-anchor="middle">h</text>
<text x="600.94" y="491.60" font-size="10.8" fill="#000" text-anchor="middle">i</text>
<text x="624.37" y="491.60" font-size="10.8" fill="#000" text-anchor="middle">j</text>
<text x="647.80" y="491.60" font-size="10.8" fill="#000" text-anchor="middle">k</text>
<text x="671.23" y="491.60" font-size="10.8" fill="#000" text-anchor="middle">l</text>
<rect x="397" y="399" width="94" height="28" fill="#fff"/>
<rect x="400" y="402.6" width="11.6" height="11.4" fill="#c6d9f1"/>
<rect x="400" y="415" width="11.6" height="11.2" fill="#f9a35e"/>
<text x="413.60" y="411.40" font-size="9.2" fill="#000" text-anchor="start">without consensus</text>
<text x="413.60" y="422.50" font-size="9.2" fill="#000" text-anchor="start">consensus</text>
</svg>
</body></html>
